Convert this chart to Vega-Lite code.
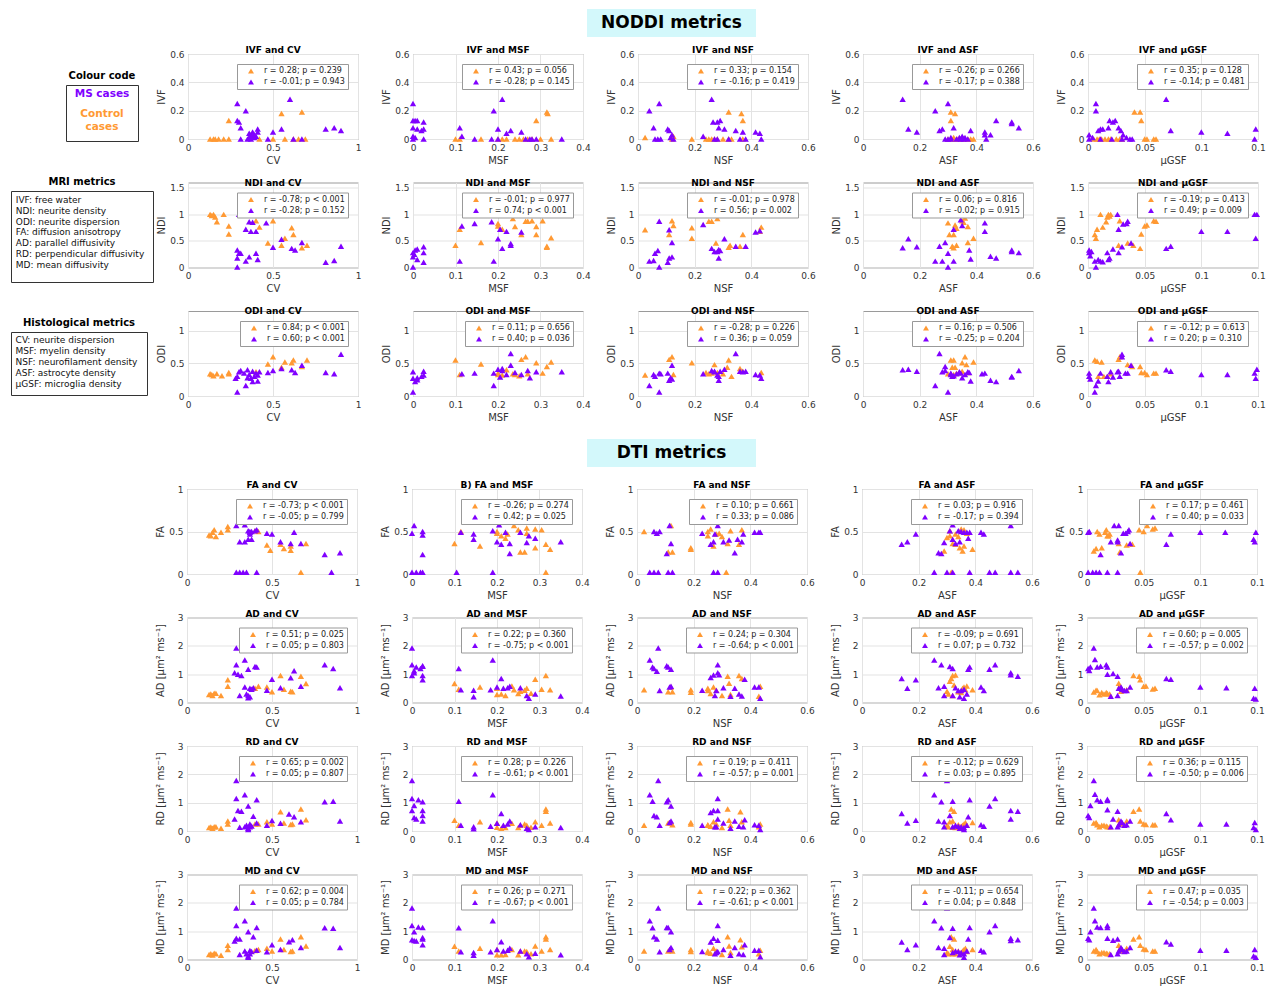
{
"$schema":"https://vega.github.io/schema/vega-lite/v6.json",
"padding":{"left":10,"top":9,"right":0,"bottom":0},
"spacing":8,
"resolve":{"scale":{"color":"independent"}},
"datasets":{
"IVF_CV":[{"g":"C","x":0.13,"y":0},{"g":"C","x":0.15,"y":0},{"g":"C","x":0.16,"y":0},{"g":"C","x":0.18,"y":0},{"g":"C","x":0.21,"y":0},{"g":"C","x":0.24,"y":0},{"g":"C","x":0.42,"y":0},{"g":"C","x":0.5,"y":0},{"g":"C","x":0.57,"y":0},{"g":"C","x":0.62,"y":0},{"g":"C","x":0.65,"y":0},{"g":"C","x":0.69,"y":0},{"g":"C","x":0.24,"y":0.13},{"g":"C","x":0.55,"y":0.18},{"g":"C","x":0.67,"y":0.19},{"g":"M","x":0.29,"y":0.25},{"g":"M","x":0.29,"y":0.13},{"g":"M","x":0.3,"y":0.12},{"g":"M","x":0.31,"y":0.08},{"g":"M","x":0.34,"y":0.2},{"g":"M","x":0.31,"y":0},{"g":"M","x":0.35,"y":0},{"g":"M","x":0.36,"y":0.01},{"g":"M","x":0.37,"y":0.03},{"g":"M","x":0.38,"y":0.05},{"g":"M","x":0.38,"y":0.02},{"g":"M","x":0.39,"y":0.01},{"g":"M","x":0.4,"y":0.02},{"g":"M","x":0.41,"y":0.05},{"g":"M","x":0.41,"y":0.07},{"g":"M","x":0.37,"y":0},{"g":"M","x":0.47,"y":0},{"g":"M","x":0.5,"y":0.05},{"g":"M","x":0.55,"y":0.07},{"g":"M","x":0.6,"y":0.28},{"g":"M","x":0.62,"y":0},{"g":"M","x":0.67,"y":0},{"g":"M","x":0.81,"y":0.07},{"g":"M","x":0.86,"y":0.08},{"g":"M","x":0.9,"y":0.06},{"g":"M","x":0.36,"y":0.04},{"g":"M","x":0.39,"y":0.03}],
"IVF_MSF":[{"g":"C","x":0.1,"y":0},{"g":"C","x":0.11,"y":0},{"g":"C","x":0.16,"y":0},{"g":"C","x":0.2,"y":0},{"g":"C","x":0.21,"y":0},{"g":"C","x":0.22,"y":0},{"g":"C","x":0.24,"y":0},{"g":"C","x":0.25,"y":0},{"g":"C","x":0.26,"y":0},{"g":"C","x":0.27,"y":0},{"g":"C","x":0.28,"y":0},{"g":"C","x":0.3,"y":0},{"g":"C","x":0.325,"y":0},{"g":"C","x":0.29,"y":0.13},{"g":"C","x":0.315,"y":0.19},{"g":"C","x":0.317,"y":0.18},{"g":"M","x":0,"y":0.25},{"g":"M","x":0,"y":0.13},{"g":"M","x":0.005,"y":0.13},{"g":"M","x":0.01,"y":0.13},{"g":"M","x":0,"y":0.08},{"g":"M","x":0.01,"y":0.07},{"g":"M","x":0.02,"y":0.06},{"g":"M","x":0.025,"y":0.07},{"g":"M","x":0.025,"y":0.12},{"g":"M","x":0,"y":0.02},{"g":"M","x":0,"y":0},{"g":"M","x":0.025,"y":0},{"g":"M","x":0.005,"y":0.01},{"g":"M","x":0.11,"y":0.08},{"g":"M","x":0.115,"y":0.02},{"g":"M","x":0.145,"y":0},{"g":"M","x":0.185,"y":0},{"g":"M","x":0.19,"y":0.2},{"g":"M","x":0.2,"y":0.07},{"g":"M","x":0.21,"y":0.28},{"g":"M","x":0.22,"y":0.04},{"g":"M","x":0.23,"y":0.06},{"g":"M","x":0.255,"y":0.05},{"g":"M","x":0.265,"y":0},{"g":"M","x":0.275,"y":0},{"g":"M","x":0.28,"y":0},{"g":"M","x":0.29,"y":0},{"g":"M","x":0.35,"y":0},{"g":"M","x":0.2,"y":0}],
"IVF_NSF":[{"g":"C","x":0.025,"y":0.01},{"g":"C","x":0.12,"y":0},{"g":"C","x":0.125,"y":0.02},{"g":"C","x":0.19,"y":0},{"g":"C","x":0.24,"y":0},{"g":"C","x":0.25,"y":0},{"g":"C","x":0.26,"y":0},{"g":"C","x":0.27,"y":0},{"g":"C","x":0.28,"y":0},{"g":"C","x":0.3,"y":0},{"g":"C","x":0.32,"y":0},{"g":"C","x":0.33,"y":0},{"g":"C","x":0.37,"y":0},{"g":"C","x":0.32,"y":0.19},{"g":"C","x":0.365,"y":0.18},{"g":"C","x":0.37,"y":0.13},{"g":"M","x":0.04,"y":0.2},{"g":"M","x":0.055,"y":0.08},{"g":"M","x":0.075,"y":0.25},{"g":"M","x":0.105,"y":0.07},{"g":"M","x":0.11,"y":0.06},{"g":"M","x":0.06,"y":0},{"g":"M","x":0.07,"y":0},{"g":"M","x":0.08,"y":0},{"g":"M","x":0.115,"y":0.01},{"g":"M","x":0.12,"y":0.03},{"g":"M","x":0.125,"y":0},{"g":"M","x":0.23,"y":0.02},{"g":"M","x":0.26,"y":0.28},{"g":"M","x":0.265,"y":0.12},{"g":"M","x":0.28,"y":0.12},{"g":"M","x":0.29,"y":0.13},{"g":"M","x":0.285,"y":0.08},{"g":"M","x":0.27,"y":0},{"g":"M","x":0.305,"y":0.07},{"g":"M","x":0.345,"y":0.06},{"g":"M","x":0.37,"y":0.05},{"g":"M","x":0.36,"y":0},{"g":"M","x":0.32,"y":0},{"g":"M","x":0.415,"y":0.05},{"g":"M","x":0.43,"y":0.04},{"g":"M","x":0.435,"y":0},{"g":"M","x":0.38,"y":0},{"g":"M","x":0.28,"y":0}],
"IVF_ASF":[{"g":"C","x":0.31,"y":0.19},{"g":"C","x":0.325,"y":0.18},{"g":"C","x":0.31,"y":0.13},{"g":"C","x":0.3,"y":0},{"g":"C","x":0.31,"y":0},{"g":"C","x":0.32,"y":0},{"g":"C","x":0.33,"y":0},{"g":"C","x":0.34,"y":0},{"g":"C","x":0.35,"y":0},{"g":"C","x":0.36,"y":0},{"g":"C","x":0.37,"y":0},{"g":"C","x":0.38,"y":0},{"g":"C","x":0.39,"y":0},{"g":"C","x":0.32,"y":0.01},{"g":"C","x":0.335,"y":0},{"g":"M","x":0.14,"y":0.28},{"g":"M","x":0.16,"y":0.07},{"g":"M","x":0.19,"y":0.05},{"g":"M","x":0.255,"y":0.2},{"g":"M","x":0.27,"y":0.06},{"g":"M","x":0.28,"y":0.07},{"g":"M","x":0.3,"y":0.25},{"g":"M","x":0.3,"y":0},{"g":"M","x":0.32,"y":0.08},{"g":"M","x":0.31,"y":0},{"g":"M","x":0.33,"y":0},{"g":"M","x":0.34,"y":0.01},{"g":"M","x":0.35,"y":0.02},{"g":"M","x":0.355,"y":0},{"g":"M","x":0.36,"y":0.01},{"g":"M","x":0.37,"y":0},{"g":"M","x":0.38,"y":0.06},{"g":"M","x":0.43,"y":0.05},{"g":"M","x":0.43,"y":0.03},{"g":"M","x":0.435,"y":0},{"g":"M","x":0.45,"y":0.03},{"g":"M","x":0.47,"y":0.13},{"g":"M","x":0.525,"y":0.12},{"g":"M","x":0.525,"y":0.11},{"g":"M","x":0.55,"y":0.08},{"g":"M","x":0.345,"y":0},{"g":"M","x":0.31,"y":0.01},{"g":"M","x":0.29,"y":0}],
"IVF_GSF":[{"g":"C","x":0.005,"y":0},{"g":"C","x":0.008,"y":0},{"g":"C","x":0.01,"y":0},{"g":"C","x":0.012,"y":0},{"g":"C","x":0.015,"y":0},{"g":"C","x":0.018,"y":0},{"g":"C","x":0.02,"y":0},{"g":"C","x":0.025,"y":0},{"g":"C","x":0.028,"y":0},{"g":"C","x":0.03,"y":0},{"g":"C","x":0.05,"y":0},{"g":"C","x":0.052,"y":0},{"g":"C","x":0.058,"y":0},{"g":"C","x":0.06,"y":0},{"g":"C","x":0.041,"y":0.19},{"g":"C","x":0.046,"y":0.19},{"g":"C","x":0.047,"y":0.13},{"g":"M","x":0.001,"y":0.03},{"g":"M","x":0.001,"y":0},{"g":"M","x":0.007,"y":0.25},{"g":"M","x":0.007,"y":0.2},{"g":"M","x":0.009,"y":0.06},{"g":"M","x":0.011,"y":0.07},{"g":"M","x":0.013,"y":0.07},{"g":"M","x":0.018,"y":0.08},{"g":"M","x":0.019,"y":0.13},{"g":"M","x":0.022,"y":0.12},{"g":"M","x":0.024,"y":0.13},{"g":"M","x":0.027,"y":0.08},{"g":"M","x":0.029,"y":0.06},{"g":"M","x":0.031,"y":0.03},{"g":"M","x":0.03,"y":0},{"g":"M","x":0.021,"y":0},{"g":"M","x":0.034,"y":0.01},{"g":"M","x":0.037,"y":0},{"g":"M","x":0.039,"y":0},{"g":"M","x":0.069,"y":0.28},{"g":"M","x":0.073,"y":0.06},{"g":"M","x":0.1,"y":0.05},{"g":"M","x":0.123,"y":0.04},{"g":"M","x":0.147,"y":0},{"g":"M","x":0.148,"y":0.07},{"g":"M","x":0.011,"y":0},{"g":"M","x":0.004,"y":0.01}],
"NDI_CV":[{"g":"C","x":0.13,"y":1.0},{"g":"C","x":0.14,"y":0.98},{"g":"C","x":0.15,"y":1.0},{"g":"C","x":0.16,"y":0.95},{"g":"C","x":0.17,"y":0.86},{"g":"C","x":0.21,"y":1.0},{"g":"C","x":0.24,"y":0.78},{"g":"C","x":0.24,"y":0.63},{"g":"C","x":0.4,"y":0.88},{"g":"C","x":0.42,"y":0.76},{"g":"C","x":0.47,"y":0.46},{"g":"C","x":0.5,"y":0.88},{"g":"C","x":0.55,"y":0.42},{"g":"C","x":0.57,"y":0.55},{"g":"C","x":0.61,"y":0.75},{"g":"C","x":0.62,"y":0.62},{"g":"C","x":0.67,"y":0.37},{"g":"C","x":0.7,"y":0.42},{"g":"M","x":0.3,"y":1.0},{"g":"M","x":0.34,"y":1.0},{"g":"M","x":0.35,"y":1.0},{"g":"M","x":0.36,"y":1.0},{"g":"M","x":0.36,"y":0.86},{"g":"M","x":0.38,"y":0.85},{"g":"M","x":0.34,"y":0.72},{"g":"M","x":0.37,"y":0.68},{"g":"M","x":0.4,"y":0.68},{"g":"M","x":0.46,"y":0.84},{"g":"M","x":0.29,"y":0.33},{"g":"M","x":0.3,"y":0.27},{"g":"M","x":0.31,"y":0.27},{"g":"M","x":0.29,"y":0.18},{"g":"M","x":0.29,"y":0.01},{"g":"M","x":0.34,"y":0.12},{"g":"M","x":0.36,"y":0.2},{"g":"M","x":0.4,"y":0.27},{"g":"M","x":0.41,"y":0.15},{"g":"M","x":0.5,"y":0.38},{"g":"M","x":0.55,"y":0.53},{"g":"M","x":0.61,"y":0.36},{"g":"M","x":0.63,"y":0.33},{"g":"M","x":0.67,"y":0.47},{"g":"M","x":0.81,"y":0.1},{"g":"M","x":0.86,"y":0.13},{"g":"M","x":0.9,"y":0.4}],
"NDI_MSF":[{"g":"C","x":0.1,"y":0.42},{"g":"C","x":0.11,"y":0.72},{"g":"C","x":0.16,"y":0.47},{"g":"C","x":0.2,"y":0.78},{"g":"C","x":0.2,"y":1.0},{"g":"C","x":0.2,"y":0.83},{"g":"C","x":0.21,"y":0.72},{"g":"C","x":0.22,"y":1.0},{"g":"C","x":0.235,"y":0.92},{"g":"C","x":0.25,"y":1.0},{"g":"C","x":0.255,"y":0.62},{"g":"C","x":0.265,"y":0.87},{"g":"C","x":0.27,"y":0.87},{"g":"C","x":0.28,"y":0.88},{"g":"C","x":0.29,"y":0.62},{"g":"C","x":0.29,"y":0.77},{"g":"C","x":0.305,"y":0.88},{"g":"C","x":0.315,"y":0.38},{"g":"C","x":0.315,"y":0.4},{"g":"C","x":0.325,"y":0.56},{"g":"C","x":0.24,"y":0.77},{"g":"M","x":0,"y":0.01},{"g":"M","x":0,"y":0.2},{"g":"M","x":0,"y":0.28},{"g":"M","x":0.005,"y":0.33},{"g":"M","x":0.01,"y":0.35},{"g":"M","x":0.01,"y":0.15},{"g":"M","x":0.025,"y":0.39},{"g":"M","x":0.025,"y":0.28},{"g":"M","x":0.025,"y":0.1},{"g":"M","x":0.11,"y":0.12},{"g":"M","x":0.115,"y":0.78},{"g":"M","x":0.145,"y":1.0},{"g":"M","x":0.145,"y":0.83},{"g":"M","x":0.185,"y":0.86},{"g":"M","x":0.19,"y":0.12},{"g":"M","x":0.2,"y":0.54},{"g":"M","x":0.205,"y":0.72},{"g":"M","x":0.21,"y":0.36},{"g":"M","x":0.22,"y":0.68},{"g":"M","x":0.23,"y":0.45},{"g":"M","x":0.23,"y":0.42},{"g":"M","x":0.255,"y":0.67},{"g":"M","x":0.27,"y":1.0},{"g":"M","x":0.28,"y":1.0},{"g":"M","x":0.29,"y":1.0},{"g":"M","x":0.35,"y":1.0},{"g":"M","x":0.003,"y":0.25}],
"NDI_NSF":[{"g":"C","x":0.025,"y":0.71},{"g":"C","x":0.11,"y":0.62},{"g":"C","x":0.12,"y":0.88},{"g":"C","x":0.125,"y":0.79},{"g":"C","x":0.19,"y":0.75},{"g":"C","x":0.19,"y":0.55},{"g":"C","x":0.25,"y":0.87},{"g":"C","x":0.26,"y":0.87},{"g":"C","x":0.27,"y":1.0},{"g":"C","x":0.28,"y":0.92},{"g":"C","x":0.3,"y":1.0},{"g":"C","x":0.32,"y":0.38},{"g":"C","x":0.325,"y":0.42},{"g":"C","x":0.275,"y":0.46},{"g":"C","x":0.37,"y":0.62},{"g":"C","x":0.36,"y":0.4},{"g":"C","x":0.435,"y":0.76},{"g":"C","x":0.43,"y":0.68},{"g":"M","x":0.04,"y":0.12},{"g":"M","x":0.055,"y":0.13},{"g":"M","x":0.06,"y":0.27},{"g":"M","x":0.07,"y":0.32},{"g":"M","x":0.075,"y":0.87},{"g":"M","x":0.075,"y":0.01},{"g":"M","x":0.105,"y":0.1},{"g":"M","x":0.11,"y":0.18},{"g":"M","x":0.11,"y":0.71},{"g":"M","x":0.12,"y":0.47},{"g":"M","x":0.12,"y":0.2},{"g":"M","x":0.23,"y":0.81},{"g":"M","x":0.26,"y":0.36},{"g":"M","x":0.27,"y":0.3},{"g":"M","x":0.28,"y":0.3},{"g":"M","x":0.285,"y":0.18},{"g":"M","x":0.285,"y":0.34},{"g":"M","x":0.275,"y":1.0},{"g":"M","x":0.305,"y":0.54},{"g":"M","x":0.325,"y":1.0},{"g":"M","x":0.36,"y":1.0},{"g":"M","x":0.37,"y":1.0},{"g":"M","x":0.345,"y":0.4},{"g":"M","x":0.38,"y":0.4},{"g":"M","x":0.415,"y":0.67},{"g":"M","x":0.43,"y":0.69},{"g":"M","x":0.435,"y":1.0},{"g":"M","x":0.29,"y":0.32}],
"NDI_ASF":[{"g":"C","x":0.3,"y":0.84},{"g":"C","x":0.305,"y":0.62},{"g":"C","x":0.31,"y":1.0},{"g":"C","x":0.315,"y":0.4},{"g":"C","x":0.32,"y":0.62},{"g":"C","x":0.32,"y":0.37},{"g":"C","x":0.325,"y":0.8},{"g":"C","x":0.33,"y":0.42},{"g":"C","x":0.33,"y":0.74},{"g":"C","x":0.35,"y":0.88},{"g":"C","x":0.36,"y":0.93},{"g":"C","x":0.355,"y":0.85},{"g":"C","x":0.37,"y":0.77},{"g":"C","x":0.37,"y":0.47},{"g":"C","x":0.39,"y":0.55},{"g":"C","x":0.32,"y":1.0},{"g":"M","x":0.14,"y":0.37},{"g":"M","x":0.16,"y":0.54},{"g":"M","x":0.19,"y":0.39},{"g":"M","x":0.255,"y":0.12},{"g":"M","x":0.27,"y":0.4},{"g":"M","x":0.28,"y":0.12},{"g":"M","x":0.29,"y":0.47},{"g":"M","x":0.3,"y":0.01},{"g":"M","x":0.3,"y":0.27},{"g":"M","x":0.32,"y":0.12},{"g":"M","x":0.3,"y":1.0},{"g":"M","x":0.32,"y":0.72},{"g":"M","x":0.33,"y":1.0},{"g":"M","x":0.34,"y":1.0},{"g":"M","x":0.345,"y":0.9},{"g":"M","x":0.35,"y":0.79},{"g":"M","x":0.36,"y":1.0},{"g":"M","x":0.37,"y":1.0},{"g":"M","x":0.375,"y":1.0},{"g":"M","x":0.375,"y":0.33},{"g":"M","x":0.38,"y":0.16},{"g":"M","x":0.43,"y":0.84},{"g":"M","x":0.43,"y":0.68},{"g":"M","x":0.45,"y":0.21},{"g":"M","x":0.47,"y":0.18},{"g":"M","x":0.525,"y":0.33},{"g":"M","x":0.525,"y":0.3},{"g":"M","x":0.55,"y":0.28}],
"NDI_GSF":[{"g":"C","x":0.006,"y":0.62},{"g":"C","x":0.007,"y":0.55},{"g":"C","x":0.008,"y":0.72},{"g":"C","x":0.011,"y":1.0},{"g":"C","x":0.013,"y":0.76},{"g":"C","x":0.016,"y":0.86},{"g":"C","x":0.017,"y":0.95},{"g":"C","x":0.018,"y":1.0},{"g":"C","x":0.019,"y":0.97},{"g":"C","x":0.02,"y":1.0},{"g":"C","x":0.028,"y":0.88},{"g":"C","x":0.027,"y":0.42},{"g":"C","x":0.035,"y":0.46},{"g":"C","x":0.04,"y":0.42},{"g":"C","x":0.046,"y":0.36},{"g":"C","x":0.047,"y":0.63},{"g":"C","x":0.05,"y":0.78},{"g":"C","x":0.052,"y":0.8},{"g":"C","x":0.058,"y":0.88},{"g":"C","x":0.06,"y":0.87},{"g":"M","x":0.001,"y":0.33},{"g":"M","x":0.001,"y":0.28},{"g":"M","x":0.002,"y":0.22},{"g":"M","x":0.003,"y":0.3},{"g":"M","x":0.006,"y":0.12},{"g":"M","x":0.007,"y":0.01},{"g":"M","x":0.009,"y":0.15},{"g":"M","x":0.011,"y":0.12},{"g":"M","x":0.013,"y":0.11},{"g":"M","x":0.017,"y":0.28},{"g":"M","x":0.018,"y":0.15},{"g":"M","x":0.019,"y":0.18},{"g":"M","x":0.022,"y":0.35},{"g":"M","x":0.026,"y":1.0},{"g":"M","x":0.027,"y":0.72},{"g":"M","x":0.027,"y":0.28},{"g":"M","x":0.03,"y":0.39},{"g":"M","x":0.031,"y":0.82},{"g":"M","x":0.034,"y":0.83},{"g":"M","x":0.035,"y":0.87},{"g":"M","x":0.038,"y":0.46},{"g":"M","x":0.069,"y":0.36},{"g":"M","x":0.073,"y":0.4},{"g":"M","x":0.1,"y":0.68},{"g":"M","x":0.123,"y":0.68},{"g":"M","x":0.147,"y":1.0},{"g":"M","x":0.148,"y":0.55},{"g":"M","x":0.149,"y":1.0}],
"ODI_CV":[{"g":"C","x":0.13,"y":0.34},{"g":"C","x":0.14,"y":0.33},{"g":"C","x":0.15,"y":0.31},{"g":"C","x":0.17,"y":0.34},{"g":"C","x":0.2,"y":0.31},{"g":"C","x":0.24,"y":0.34},{"g":"C","x":0.24,"y":0.36},{"g":"C","x":0.4,"y":0.37},{"g":"C","x":0.47,"y":0.49},{"g":"C","x":0.5,"y":0.6},{"g":"C","x":0.55,"y":0.44},{"g":"C","x":0.57,"y":0.52},{"g":"C","x":0.61,"y":0.51},{"g":"C","x":0.62,"y":0.55},{"g":"C","x":0.67,"y":0.45},{"g":"C","x":0.7,"y":0.55},{"g":"M","x":0.29,"y":0.06},{"g":"M","x":0.28,"y":0.27},{"g":"M","x":0.29,"y":0.3},{"g":"M","x":0.3,"y":0.37},{"g":"M","x":0.31,"y":0.39},{"g":"M","x":0.33,"y":0.35},{"g":"M","x":0.34,"y":0.16},{"g":"M","x":0.35,"y":0.4},{"g":"M","x":0.35,"y":0.28},{"g":"M","x":0.36,"y":0.33},{"g":"M","x":0.37,"y":0.27},{"g":"M","x":0.38,"y":0.38},{"g":"M","x":0.38,"y":0.22},{"g":"M","x":0.39,"y":0.3},{"g":"M","x":0.4,"y":0.35},{"g":"M","x":0.41,"y":0.32},{"g":"M","x":0.41,"y":0.23},{"g":"M","x":0.42,"y":0.37},{"g":"M","x":0.47,"y":0.36},{"g":"M","x":0.5,"y":0.39},{"g":"M","x":0.55,"y":0.42},{"g":"M","x":0.61,"y":0.4},{"g":"M","x":0.63,"y":0.36},{"g":"M","x":0.67,"y":0.47},{"g":"M","x":0.81,"y":0.36},{"g":"M","x":0.86,"y":0.34},{"g":"M","x":0.9,"y":0.64}],
"ODI_MSF":[{"g":"C","x":0.1,"y":0.55},{"g":"C","x":0.11,"y":0.33},{"g":"C","x":0.16,"y":0.49},{"g":"C","x":0.2,"y":0.35},{"g":"C","x":0.2,"y":0.33},{"g":"C","x":0.21,"y":0.32},{"g":"C","x":0.22,"y":0.4},{"g":"C","x":0.235,"y":0.34},{"g":"C","x":0.25,"y":0.31},{"g":"C","x":0.255,"y":0.56},{"g":"C","x":0.265,"y":0.6},{"g":"C","x":0.27,"y":0.34},{"g":"C","x":0.29,"y":0.51},{"g":"C","x":0.305,"y":0.35},{"g":"C","x":0.315,"y":0.45},{"g":"C","x":0.325,"y":0.52},{"g":"C","x":0.24,"y":0.33},{"g":"M","x":0,"y":0.06},{"g":"M","x":0,"y":0.37},{"g":"M","x":0,"y":0.27},{"g":"M","x":0.005,"y":0.22},{"g":"M","x":0.01,"y":0.25},{"g":"M","x":0.01,"y":0.28},{"g":"M","x":0.025,"y":0.32},{"g":"M","x":0.025,"y":0.38},{"g":"M","x":0.115,"y":0.34},{"g":"M","x":0.145,"y":0.35},{"g":"M","x":0.19,"y":0.35},{"g":"M","x":0.19,"y":0.16},{"g":"M","x":0.2,"y":0.41},{"g":"M","x":0.205,"y":0.29},{"g":"M","x":0.21,"y":0.39},{"g":"M","x":0.22,"y":0.33},{"g":"M","x":0.23,"y":0.65},{"g":"M","x":0.23,"y":0.47},{"g":"M","x":0.24,"y":0.36},{"g":"M","x":0.255,"y":0.33},{"g":"M","x":0.27,"y":0.39},{"g":"M","x":0.275,"y":0.28},{"g":"M","x":0.29,"y":0.37},{"g":"M","x":0.35,"y":0.37},{"g":"M","x":0.02,"y":0.3},{"g":"M","x":0.21,"y":0.42}],
"ODI_NSF":[{"g":"C","x":0.025,"y":0.32},{"g":"C","x":0.11,"y":0.56},{"g":"C","x":0.12,"y":0.6},{"g":"C","x":0.125,"y":0.33},{"g":"C","x":0.19,"y":0.51},{"g":"C","x":0.25,"y":0.34},{"g":"C","x":0.26,"y":0.35},{"g":"C","x":0.27,"y":0.48},{"g":"C","x":0.28,"y":0.36},{"g":"C","x":0.3,"y":0.34},{"g":"C","x":0.315,"y":0.44},{"g":"C","x":0.32,"y":0.55},{"g":"C","x":0.33,"y":0.3},{"g":"C","x":0.36,"y":0.42},{"g":"C","x":0.37,"y":0.38},{"g":"C","x":0.435,"y":0.36},{"g":"C","x":0.24,"y":0.36},{"g":"M","x":0.04,"y":0.16},{"g":"M","x":0.055,"y":0.33},{"g":"M","x":0.06,"y":0.3},{"g":"M","x":0.075,"y":0.06},{"g":"M","x":0.075,"y":0.35},{"g":"M","x":0.08,"y":0.34},{"g":"M","x":0.105,"y":0.35},{"g":"M","x":0.11,"y":0.24},{"g":"M","x":0.115,"y":0.28},{"g":"M","x":0.12,"y":0.47},{"g":"M","x":0.12,"y":0.26},{"g":"M","x":0.23,"y":0.34},{"g":"M","x":0.26,"y":0.39},{"g":"M","x":0.27,"y":0.37},{"g":"M","x":0.28,"y":0.32},{"g":"M","x":0.285,"y":0.24},{"g":"M","x":0.29,"y":0.38},{"g":"M","x":0.305,"y":0.41},{"g":"M","x":0.345,"y":0.65},{"g":"M","x":0.36,"y":0.38},{"g":"M","x":0.37,"y":0.37},{"g":"M","x":0.38,"y":0.38},{"g":"M","x":0.415,"y":0.33},{"g":"M","x":0.43,"y":0.32},{"g":"M","x":0.435,"y":0.27},{"g":"M","x":0.27,"y":0.38},{"g":"M","x":0.285,"y":0.3}],
"ODI_ASF":[{"g":"C","x":0.3,"y":0.34},{"g":"C","x":0.31,"y":0.55},{"g":"C","x":0.32,"y":0.55},{"g":"C","x":0.315,"y":0.44},{"g":"C","x":0.325,"y":0.44},{"g":"C","x":0.33,"y":0.35},{"g":"C","x":0.34,"y":0.36},{"g":"C","x":0.35,"y":0.51},{"g":"C","x":0.36,"y":0.6},{"g":"C","x":0.365,"y":0.48},{"g":"C","x":0.37,"y":0.36},{"g":"C","x":0.39,"y":0.52},{"g":"C","x":0.32,"y":0.33},{"g":"C","x":0.35,"y":0.38},{"g":"M","x":0.14,"y":0.4},{"g":"M","x":0.16,"y":0.41},{"g":"M","x":0.19,"y":0.38},{"g":"M","x":0.255,"y":0.16},{"g":"M","x":0.27,"y":0.65},{"g":"M","x":0.28,"y":0.37},{"g":"M","x":0.29,"y":0.45},{"g":"M","x":0.29,"y":0.39},{"g":"M","x":0.3,"y":0.06},{"g":"M","x":0.31,"y":0.33},{"g":"M","x":0.315,"y":0.3},{"g":"M","x":0.32,"y":0.31},{"g":"M","x":0.33,"y":0.34},{"g":"M","x":0.34,"y":0.37},{"g":"M","x":0.345,"y":0.35},{"g":"M","x":0.35,"y":0.28},{"g":"M","x":0.36,"y":0.33},{"g":"M","x":0.37,"y":0.37},{"g":"M","x":0.375,"y":0.36},{"g":"M","x":0.38,"y":0.23},{"g":"M","x":0.42,"y":0.34},{"g":"M","x":0.43,"y":0.35},{"g":"M","x":0.45,"y":0.24},{"g":"M","x":0.47,"y":0.22},{"g":"M","x":0.525,"y":0.3},{"g":"M","x":0.525,"y":0.29},{"g":"M","x":0.55,"y":0.39},{"g":"M","x":0.31,"y":0.35}],
"ODI_GSF":[{"g":"C","x":0.006,"y":0.55},{"g":"C","x":0.008,"y":0.53},{"g":"C","x":0.012,"y":0.52},{"g":"C","x":0.009,"y":0.3},{"g":"C","x":0.014,"y":0.3},{"g":"C","x":0.017,"y":0.3},{"g":"C","x":0.02,"y":0.34},{"g":"C","x":0.027,"y":0.56},{"g":"C","x":0.028,"y":0.6},{"g":"C","x":0.035,"y":0.48},{"g":"C","x":0.039,"y":0.45},{"g":"C","x":0.046,"y":0.45},{"g":"C","x":0.047,"y":0.36},{"g":"C","x":0.05,"y":0.36},{"g":"C","x":0.052,"y":0.33},{"g":"C","x":0.058,"y":0.35},{"g":"C","x":0.06,"y":0.35},{"g":"M","x":0.001,"y":0.35},{"g":"M","x":0.001,"y":0.3},{"g":"M","x":0.002,"y":0.26},{"g":"M","x":0.006,"y":0.06},{"g":"M","x":0.007,"y":0.16},{"g":"M","x":0.009,"y":0.23},{"g":"M","x":0.011,"y":0.35},{"g":"M","x":0.017,"y":0.3},{"g":"M","x":0.018,"y":0.22},{"g":"M","x":0.02,"y":0.37},{"g":"M","x":0.022,"y":0.29},{"g":"M","x":0.026,"y":0.37},{"g":"M","x":0.027,"y":0.38},{"g":"M","x":0.028,"y":0.3},{"g":"M","x":0.03,"y":0.64},{"g":"M","x":0.03,"y":0.6},{"g":"M","x":0.033,"y":0.35},{"g":"M","x":0.035,"y":0.35},{"g":"M","x":0.038,"y":0.47},{"g":"M","x":0.069,"y":0.4},{"g":"M","x":0.073,"y":0.38},{"g":"M","x":0.1,"y":0.33},{"g":"M","x":0.123,"y":0.33},{"g":"M","x":0.147,"y":0.35},{"g":"M","x":0.148,"y":0.27},{"g":"M","x":0.149,"y":0.41}],
"FA_CV":[{"g":"C","x":0.13,"y":0.46},{"g":"C","x":0.14,"y":0.45},{"g":"C","x":0.15,"y":0.49},{"g":"C","x":0.16,"y":0.52},{"g":"C","x":0.17,"y":0.44},{"g":"C","x":0.2,"y":0.49},{"g":"C","x":0.24,"y":0.56},{"g":"C","x":0.24,"y":0.52},{"g":"C","x":0.4,"y":0.51},{"g":"C","x":0.42,"y":0.5},{"g":"C","x":0.47,"y":0.34},{"g":"C","x":0.49,"y":0.28},{"g":"C","x":0.55,"y":0.35},{"g":"C","x":0.57,"y":0.3},{"g":"C","x":0.61,"y":0.33},{"g":"C","x":0.61,"y":0.28},{"g":"C","x":0.67,"y":0.02},{"g":"C","x":0.7,"y":0.36},{"g":"M","x":0.29,"y":0.57},{"g":"M","x":0.34,"y":0.58},{"g":"M","x":0.36,"y":0.51},{"g":"M","x":0.37,"y":0.5},{"g":"M","x":0.37,"y":0.49},{"g":"M","x":0.38,"y":0.5},{"g":"M","x":0.4,"y":0.51},{"g":"M","x":0.41,"y":0.52},{"g":"M","x":0.36,"y":0.41},{"g":"M","x":0.38,"y":0.41},{"g":"M","x":0.34,"y":0.38},{"g":"M","x":0.31,"y":0.38},{"g":"M","x":0.47,"y":0.48},{"g":"M","x":0.5,"y":0.47},{"g":"M","x":0.55,"y":0.38},{"g":"M","x":0.61,"y":0.36},{"g":"M","x":0.63,"y":0.49},{"g":"M","x":0.67,"y":0.36},{"g":"M","x":0.81,"y":0.23},{"g":"M","x":0.9,"y":0.25},{"g":"M","x":0.29,"y":0.02},{"g":"M","x":0.31,"y":0.02},{"g":"M","x":0.33,"y":0.02},{"g":"M","x":0.35,"y":0.02},{"g":"M","x":0.41,"y":0.02},{"g":"M","x":0.85,"y":0.02},{"g":"M","x":0.37,"y":0.47}],
"FA_MSF":[{"g":"C","x":0.1,"y":0.36},{"g":"C","x":0.115,"y":0.5},{"g":"C","x":0.16,"y":0.33},{"g":"C","x":0.2,"y":0.5},{"g":"C","x":0.2,"y":0.48},{"g":"C","x":0.21,"y":0.45},{"g":"C","x":0.22,"y":0.42},{"g":"C","x":0.225,"y":0.47},{"g":"C","x":0.24,"y":0.57},{"g":"C","x":0.25,"y":0.52},{"g":"C","x":0.255,"y":0.26},{"g":"C","x":0.265,"y":0.26},{"g":"C","x":0.27,"y":0.54},{"g":"C","x":0.27,"y":0.48},{"g":"C","x":0.29,"y":0.53},{"g":"C","x":0.29,"y":0.31},{"g":"C","x":0.305,"y":0.52},{"g":"C","x":0.315,"y":0.35},{"g":"C","x":0.325,"y":0.29},{"g":"C","x":0.315,"y":0.02},{"g":"M","x":0,"y":0.02},{"g":"M","x":0.01,"y":0.02},{"g":"M","x":0.02,"y":0.02},{"g":"M","x":0.025,"y":0.02},{"g":"M","x":0,"y":0.48},{"g":"M","x":0.005,"y":0.57},{"g":"M","x":0.025,"y":0.5},{"g":"M","x":0.025,"y":0.46},{"g":"M","x":0.025,"y":0.23},{"g":"M","x":0.105,"y":0.02},{"g":"M","x":0.115,"y":0.49},{"g":"M","x":0.145,"y":0.47},{"g":"M","x":0.145,"y":0.41},{"g":"M","x":0.19,"y":0.02},{"g":"M","x":0.19,"y":0.51},{"g":"M","x":0.2,"y":0.38},{"g":"M","x":0.205,"y":0.58},{"g":"M","x":0.21,"y":0.35},{"g":"M","x":0.22,"y":0.49},{"g":"M","x":0.23,"y":0.36},{"g":"M","x":0.23,"y":0.24},{"g":"M","x":0.255,"y":0.49},{"g":"M","x":0.27,"y":0.37},{"g":"M","x":0.275,"y":0.45},{"g":"M","x":0.29,"y":0.42},{"g":"M","x":0.35,"y":0.38}],
"FA_NSF":[{"g":"C","x":0.025,"y":0.5},{"g":"C","x":0.12,"y":0.57},{"g":"C","x":0.11,"y":0.26},{"g":"C","x":0.125,"y":0.26},{"g":"C","x":0.19,"y":0.31},{"g":"C","x":0.19,"y":0.29},{"g":"C","x":0.25,"y":0.5},{"g":"C","x":0.26,"y":0.53},{"g":"C","x":0.25,"y":0.45},{"g":"C","x":0.27,"y":0.33},{"g":"C","x":0.28,"y":0.47},{"g":"C","x":0.29,"y":0.48},{"g":"C","x":0.3,"y":0.44},{"g":"C","x":0.32,"y":0.36},{"g":"C","x":0.33,"y":0.51},{"g":"C","x":0.36,"y":0.35},{"g":"C","x":0.37,"y":0.52},{"g":"C","x":0.315,"y":0.02},{"g":"M","x":0.045,"y":0.02},{"g":"M","x":0.06,"y":0.02},{"g":"M","x":0.075,"y":0.02},{"g":"M","x":0.11,"y":0.02},{"g":"M","x":0.125,"y":0.02},{"g":"M","x":0.27,"y":0.02},{"g":"M","x":0.285,"y":0.02},{"g":"M","x":0.06,"y":0.5},{"g":"M","x":0.07,"y":0.48},{"g":"M","x":0.08,"y":0.5},{"g":"M","x":0.115,"y":0.57},{"g":"M","x":0.105,"y":0.24},{"g":"M","x":0.12,"y":0.36},{"g":"M","x":0.23,"y":0.48},{"g":"M","x":0.26,"y":0.35},{"g":"M","x":0.27,"y":0.38},{"g":"M","x":0.275,"y":0.47},{"g":"M","x":0.285,"y":0.57},{"g":"M","x":0.305,"y":0.38},{"g":"M","x":0.325,"y":0.4},{"g":"M","x":0.345,"y":0.25},{"g":"M","x":0.355,"y":0.41},{"g":"M","x":0.37,"y":0.38},{"g":"M","x":0.375,"y":0.47},{"g":"M","x":0.415,"y":0.49},{"g":"M","x":0.43,"y":0.49},{"g":"M","x":0.435,"y":0.49}],
"FA_ASF":[{"g":"C","x":0.29,"y":0.27},{"g":"C","x":0.3,"y":0.43},{"g":"C","x":0.31,"y":0.45},{"g":"C","x":0.31,"y":0.51},{"g":"C","x":0.32,"y":0.36},{"g":"C","x":0.33,"y":0.47},{"g":"C","x":0.33,"y":0.35},{"g":"C","x":0.34,"y":0.44},{"g":"C","x":0.345,"y":0.31},{"g":"C","x":0.35,"y":0.53},{"g":"C","x":0.355,"y":0.27},{"g":"C","x":0.36,"y":0.52},{"g":"C","x":0.36,"y":0.33},{"g":"C","x":0.37,"y":0.48},{"g":"C","x":0.39,"y":0.29},{"g":"C","x":0.315,"y":0.02},{"g":"M","x":0.14,"y":0.35},{"g":"M","x":0.16,"y":0.38},{"g":"M","x":0.19,"y":0.47},{"g":"M","x":0.255,"y":0.02},{"g":"M","x":0.27,"y":0.25},{"g":"M","x":0.28,"y":0.24},{"g":"M","x":0.29,"y":0.37},{"g":"M","x":0.3,"y":0.02},{"g":"M","x":0.31,"y":0.51},{"g":"M","x":0.32,"y":0.58},{"g":"M","x":0.32,"y":0.41},{"g":"M","x":0.32,"y":0.02},{"g":"M","x":0.33,"y":0.36},{"g":"M","x":0.34,"y":0.51},{"g":"M","x":0.345,"y":0.38},{"g":"M","x":0.35,"y":0.5},{"g":"M","x":0.36,"y":0.49},{"g":"M","x":0.37,"y":0.49},{"g":"M","x":0.375,"y":0.42},{"g":"M","x":0.38,"y":0.02},{"g":"M","x":0.38,"y":0.49},{"g":"M","x":0.42,"y":0.49},{"g":"M","x":0.43,"y":0.47},{"g":"M","x":0.45,"y":0.02},{"g":"M","x":0.47,"y":0.02},{"g":"M","x":0.525,"y":0.02},{"g":"M","x":0.525,"y":0.57},{"g":"M","x":0.55,"y":0.02}],
"FA_GSF":[{"g":"C","x":0.006,"y":0.27},{"g":"C","x":0.008,"y":0.3},{"g":"C","x":0.009,"y":0.5},{"g":"C","x":0.011,"y":0.47},{"g":"C","x":0.013,"y":0.31},{"g":"C","x":0.016,"y":0.49},{"g":"C","x":0.017,"y":0.52},{"g":"C","x":0.018,"y":0.45},{"g":"C","x":0.019,"y":0.45},{"g":"C","x":0.02,"y":0.47},{"g":"C","x":0.028,"y":0.36},{"g":"C","x":0.029,"y":0.26},{"g":"C","x":0.035,"y":0.34},{"g":"C","x":0.04,"y":0.35},{"g":"C","x":0.046,"y":0.52},{"g":"C","x":0.047,"y":0.02},{"g":"C","x":0.05,"y":0.5},{"g":"C","x":0.053,"y":0.57},{"g":"C","x":0.058,"y":0.53},{"g":"C","x":0.06,"y":0.54},{"g":"M","x":0.001,"y":0.49},{"g":"M","x":0.002,"y":0.5},{"g":"M","x":0.001,"y":0.02},{"g":"M","x":0.005,"y":0.02},{"g":"M","x":0.008,"y":0.02},{"g":"M","x":0.011,"y":0.02},{"g":"M","x":0.018,"y":0.02},{"g":"M","x":0.027,"y":0.02},{"g":"M","x":0.012,"y":0.23},{"g":"M","x":0.021,"y":0.38},{"g":"M","x":0.024,"y":0.57},{"g":"M","x":0.027,"y":0.4},{"g":"M","x":0.028,"y":0.57},{"g":"M","x":0.03,"y":0.25},{"g":"M","x":0.032,"y":0.48},{"g":"M","x":0.034,"y":0.48},{"g":"M","x":0.036,"y":0.5},{"g":"M","x":0.037,"y":0.52},{"g":"M","x":0.038,"y":0.36},{"g":"M","x":0.07,"y":0.35},{"g":"M","x":0.074,"y":0.47},{"g":"M","x":0.1,"y":0.49},{"g":"M","x":0.122,"y":0.49},{"g":"M","x":0.147,"y":0.41},{"g":"M","x":0.148,"y":0.38},{"g":"M","x":0.149,"y":0.49},{"g":"M","x":0.027,"y":0.38}],
"AD_CV":[{"g":"C","x":0.13,"y":0.28},{"g":"C","x":0.14,"y":0.3},{"g":"C","x":0.15,"y":0.25},{"g":"C","x":0.16,"y":0.33},{"g":"C","x":0.17,"y":0.33},{"g":"C","x":0.2,"y":0.25},{"g":"C","x":0.24,"y":0.8},{"g":"C","x":0.24,"y":0.57},{"g":"C","x":0.4,"y":0.5},{"g":"C","x":0.42,"y":0.57},{"g":"C","x":0.47,"y":0.55},{"g":"C","x":0.5,"y":0.38},{"g":"C","x":0.55,"y":0.95},{"g":"C","x":0.57,"y":0.47},{"g":"C","x":0.61,"y":0.4},{"g":"C","x":0.62,"y":0.38},{"g":"C","x":0.67,"y":0.93},{"g":"C","x":0.7,"y":0.67},{"g":"M","x":0.29,"y":1.92},{"g":"M","x":0.29,"y":1.33},{"g":"M","x":0.28,"y":1.05},{"g":"M","x":0.3,"y":1.0},{"g":"M","x":0.32,"y":0.95},{"g":"M","x":0.34,"y":1.5},{"g":"M","x":0.36,"y":1.17},{"g":"M","x":0.34,"y":0.55},{"g":"M","x":0.37,"y":0.5},{"g":"M","x":0.38,"y":0.47},{"g":"M","x":0.39,"y":0.52},{"g":"M","x":0.36,"y":0.25},{"g":"M","x":0.35,"y":0.3},{"g":"M","x":0.37,"y":0.2},{"g":"M","x":0.31,"y":0.25},{"g":"M","x":0.36,"y":0.17},{"g":"M","x":0.4,"y":1.27},{"g":"M","x":0.41,"y":1.25},{"g":"M","x":0.47,"y":0.43},{"g":"M","x":0.5,"y":0.82},{"g":"M","x":0.55,"y":0.52},{"g":"M","x":0.61,"y":0.87},{"g":"M","x":0.63,"y":1.12},{"g":"M","x":0.67,"y":0.57},{"g":"M","x":0.81,"y":1.33},{"g":"M","x":0.86,"y":1.2},{"g":"M","x":0.9,"y":0.52}],
"AD_MSF":[{"g":"C","x":0.1,"y":0.67},{"g":"C","x":0.11,"y":0.47},{"g":"C","x":0.16,"y":0.55},{"g":"C","x":0.2,"y":0.5},{"g":"C","x":0.2,"y":0.28},{"g":"C","x":0.21,"y":0.3},{"g":"C","x":0.22,"y":0.25},{"g":"C","x":0.235,"y":0.58},{"g":"C","x":0.25,"y":0.32},{"g":"C","x":0.255,"y":0.4},{"g":"C","x":0.265,"y":0.43},{"g":"C","x":0.27,"y":0.5},{"g":"C","x":0.28,"y":0.33},{"g":"C","x":0.29,"y":0.82},{"g":"C","x":0.305,"y":0.47},{"g":"C","x":0.315,"y":0.95},{"g":"C","x":0.325,"y":0.45},{"g":"C","x":0.24,"y":0.45},{"g":"M","x":0,"y":1.92},{"g":"M","x":0,"y":1.33},{"g":"M","x":0,"y":0.95},{"g":"M","x":0.005,"y":1.12},{"g":"M","x":0.005,"y":1.05},{"g":"M","x":0.01,"y":1.25},{"g":"M","x":0.02,"y":1.2},{"g":"M","x":0.025,"y":1.28},{"g":"M","x":0.025,"y":1.3},{"g":"M","x":0.025,"y":0.95},{"g":"M","x":0.025,"y":0.8},{"g":"M","x":0.11,"y":1.2},{"g":"M","x":0.115,"y":0.45},{"g":"M","x":0.145,"y":0.43},{"g":"M","x":0.145,"y":0.2},{"g":"M","x":0.185,"y":0.45},{"g":"M","x":0.19,"y":1.5},{"g":"M","x":0.2,"y":0.55},{"g":"M","x":0.21,"y":0.85},{"g":"M","x":0.215,"y":0.5},{"g":"M","x":0.225,"y":0.52},{"g":"M","x":0.23,"y":0.57},{"g":"M","x":0.255,"y":0.52},{"g":"M","x":0.27,"y":0.25},{"g":"M","x":0.275,"y":0.15},{"g":"M","x":0.29,"y":0.3},{"g":"M","x":0.35,"y":0.23}],
"AD_NSF":[{"g":"C","x":0.025,"y":0.45},{"g":"C","x":0.11,"y":0.38},{"g":"C","x":0.12,"y":0.55},{"g":"C","x":0.125,"y":0.38},{"g":"C","x":0.19,"y":0.36},{"g":"C","x":0.19,"y":0.45},{"g":"C","x":0.25,"y":0.5},{"g":"C","x":0.26,"y":0.32},{"g":"C","x":0.25,"y":0.42},{"g":"C","x":0.27,"y":0.55},{"g":"C","x":0.28,"y":0.43},{"g":"C","x":0.3,"y":0.25},{"g":"C","x":0.32,"y":0.93},{"g":"C","x":0.325,"y":0.68},{"g":"C","x":0.33,"y":0.28},{"g":"C","x":0.36,"y":0.95},{"g":"C","x":0.37,"y":0.85},{"g":"C","x":0.435,"y":0.57},{"g":"C","x":0.43,"y":0.22},{"g":"M","x":0.045,"y":1.5},{"g":"M","x":0.055,"y":1.25},{"g":"M","x":0.06,"y":1.2},{"g":"M","x":0.07,"y":1.1},{"g":"M","x":0.075,"y":1.92},{"g":"M","x":0.08,"y":0.42},{"g":"M","x":0.105,"y":1.3},{"g":"M","x":0.11,"y":1.25},{"g":"M","x":0.12,"y":1.17},{"g":"M","x":0.115,"y":0.55},{"g":"M","x":0.12,"y":0.57},{"g":"M","x":0.23,"y":0.43},{"g":"M","x":0.26,"y":0.88},{"g":"M","x":0.27,"y":0.97},{"g":"M","x":0.275,"y":0.25},{"g":"M","x":0.28,"y":0.42},{"g":"M","x":0.285,"y":1.33},{"g":"M","x":0.285,"y":1.05},{"g":"M","x":0.29,"y":0.98},{"g":"M","x":0.305,"y":0.52},{"g":"M","x":0.33,"y":0.22},{"g":"M","x":0.345,"y":0.5},{"g":"M","x":0.36,"y":0.3},{"g":"M","x":0.37,"y":0.23},{"g":"M","x":0.38,"y":0.82},{"g":"M","x":0.415,"y":0.55},{"g":"M","x":0.43,"y":0.55},{"g":"M","x":0.435,"y":0.15}],
"AD_ASF":[{"g":"C","x":0.3,"y":0.4},{"g":"C","x":0.305,"y":0.3},{"g":"C","x":0.31,"y":0.75},{"g":"C","x":0.315,"y":0.85},{"g":"C","x":0.32,"y":0.95},{"g":"C","x":0.325,"y":0.62},{"g":"C","x":0.33,"y":0.97},{"g":"C","x":0.34,"y":0.38},{"g":"C","x":0.35,"y":0.35},{"g":"C","x":0.355,"y":0.5},{"g":"C","x":0.36,"y":0.55},{"g":"C","x":0.365,"y":0.45},{"g":"C","x":0.37,"y":0.58},{"g":"C","x":0.39,"y":0.45},{"g":"C","x":0.32,"y":0.25},{"g":"M","x":0.14,"y":0.85},{"g":"M","x":0.16,"y":0.5},{"g":"M","x":0.19,"y":0.8},{"g":"M","x":0.255,"y":1.5},{"g":"M","x":0.27,"y":0.52},{"g":"M","x":0.28,"y":1.33},{"g":"M","x":0.29,"y":0.57},{"g":"M","x":0.29,"y":0.25},{"g":"M","x":0.3,"y":1.92},{"g":"M","x":0.31,"y":1.27},{"g":"M","x":0.32,"y":1.2},{"g":"M","x":0.32,"y":0.25},{"g":"M","x":0.33,"y":0.52},{"g":"M","x":0.34,"y":0.42},{"g":"M","x":0.35,"y":0.42},{"g":"M","x":0.345,"y":0.2},{"g":"M","x":0.36,"y":0.47},{"g":"M","x":0.37,"y":0.3},{"g":"M","x":0.375,"y":1.17},{"g":"M","x":0.38,"y":1.25},{"g":"M","x":0.36,"y":0.15},{"g":"M","x":0.42,"y":0.55},{"g":"M","x":0.43,"y":0.42},{"g":"M","x":0.45,"y":1.17},{"g":"M","x":0.47,"y":1.33},{"g":"M","x":0.525,"y":1.05},{"g":"M","x":0.525,"y":0.98},{"g":"M","x":0.55,"y":0.93}],
"AD_GSF":[{"g":"C","x":0.006,"y":0.37},{"g":"C","x":0.008,"y":0.43},{"g":"C","x":0.009,"y":0.42},{"g":"C","x":0.011,"y":0.27},{"g":"C","x":0.013,"y":0.35},{"g":"C","x":0.015,"y":0.3},{"g":"C","x":0.017,"y":0.35},{"g":"C","x":0.018,"y":0.32},{"g":"C","x":0.02,"y":0.3},{"g":"C","x":0.028,"y":0.68},{"g":"C","x":0.029,"y":0.58},{"g":"C","x":0.03,"y":0.4},{"g":"C","x":0.035,"y":0.45},{"g":"C","x":0.041,"y":0.95},{"g":"C","x":0.046,"y":0.93},{"g":"C","x":0.047,"y":0.8},{"g":"C","x":0.05,"y":0.57},{"g":"C","x":0.052,"y":0.58},{"g":"C","x":0.058,"y":0.48},{"g":"C","x":0.06,"y":0.5},{"g":"M","x":0.001,"y":1.2},{"g":"M","x":0.002,"y":1.13},{"g":"M","x":0.003,"y":1.25},{"g":"M","x":0.006,"y":1.92},{"g":"M","x":0.007,"y":1.52},{"g":"M","x":0.009,"y":1.25},{"g":"M","x":0.012,"y":1.28},{"g":"M","x":0.017,"y":1.33},{"g":"M","x":0.018,"y":1.25},{"g":"M","x":0.018,"y":1.0},{"g":"M","x":0.021,"y":0.22},{"g":"M","x":0.023,"y":1.02},{"g":"M","x":0.027,"y":0.93},{"g":"M","x":0.027,"y":0.25},{"g":"M","x":0.028,"y":0.5},{"g":"M","x":0.03,"y":0.55},{"g":"M","x":0.031,"y":0.47},{"g":"M","x":0.033,"y":0.42},{"g":"M","x":0.035,"y":0.42},{"g":"M","x":0.038,"y":0.55},{"g":"M","x":0.07,"y":0.85},{"g":"M","x":0.074,"y":0.82},{"g":"M","x":0.1,"y":0.55},{"g":"M","x":0.123,"y":0.52},{"g":"M","x":0.147,"y":0.15},{"g":"M","x":0.148,"y":0.5},{"g":"M","x":0.149,"y":0.12}],
"RD_CV":[{"g":"C","x":0.13,"y":0.12},{"g":"C","x":0.14,"y":0.14},{"g":"C","x":0.15,"y":0.1},{"g":"C","x":0.16,"y":0.15},{"g":"C","x":0.17,"y":0.15},{"g":"C","x":0.2,"y":0.1},{"g":"C","x":0.24,"y":0.35},{"g":"C","x":0.24,"y":0.25},{"g":"C","x":0.4,"y":0.25},{"g":"C","x":0.42,"y":0.25},{"g":"C","x":0.47,"y":0.33},{"g":"C","x":0.5,"y":0.25},{"g":"C","x":0.55,"y":0.68},{"g":"C","x":0.57,"y":0.28},{"g":"C","x":0.61,"y":0.23},{"g":"C","x":0.62,"y":0.25},{"g":"C","x":0.67,"y":0.78},{"g":"C","x":0.7,"y":0.4},{"g":"M","x":0.29,"y":1.78},{"g":"M","x":0.29,"y":1.15},{"g":"M","x":0.28,"y":0.42},{"g":"M","x":0.3,"y":0.72},{"g":"M","x":0.32,"y":0.7},{"g":"M","x":0.34,"y":1.28},{"g":"M","x":0.36,"y":0.88},{"g":"M","x":0.31,"y":0.13},{"g":"M","x":0.34,"y":0.15},{"g":"M","x":0.35,"y":0.2},{"g":"M","x":0.36,"y":0.1},{"g":"M","x":0.37,"y":0.15},{"g":"M","x":0.38,"y":0.18},{"g":"M","x":0.39,"y":0.52},{"g":"M","x":0.37,"y":0.25},{"g":"M","x":0.36,"y":0.05},{"g":"M","x":0.41,"y":1.1},{"g":"M","x":0.41,"y":0.28},{"g":"M","x":0.47,"y":0.2},{"g":"M","x":0.5,"y":0.37},{"g":"M","x":0.55,"y":0.27},{"g":"M","x":0.6,"y":0.6},{"g":"M","x":0.63,"y":0.5},{"g":"M","x":0.67,"y":0.33},{"g":"M","x":0.81,"y":1.03},{"g":"M","x":0.86,"y":1.05},{"g":"M","x":0.9,"y":0.35}],
"RD_MSF":[{"g":"C","x":0.1,"y":0.38},{"g":"C","x":0.11,"y":0.2},{"g":"C","x":0.16,"y":0.33},{"g":"C","x":0.2,"y":0.13},{"g":"C","x":0.2,"y":0.28},{"g":"C","x":0.21,"y":0.1},{"g":"C","x":0.22,"y":0.12},{"g":"C","x":0.235,"y":0.27},{"g":"C","x":0.25,"y":0.12},{"g":"C","x":0.255,"y":0.2},{"g":"C","x":0.265,"y":0.25},{"g":"C","x":0.27,"y":0.2},{"g":"C","x":0.28,"y":0.13},{"g":"C","x":0.29,"y":0.33},{"g":"C","x":0.305,"y":0.2},{"g":"C","x":0.315,"y":0.78},{"g":"C","x":0.315,"y":0.7},{"g":"C","x":0.325,"y":0.28},{"g":"M","x":0,"y":1.78},{"g":"M","x":0,"y":1.15},{"g":"M","x":0,"y":0.72},{"g":"M","x":0.005,"y":0.9},{"g":"M","x":0.005,"y":0.48},{"g":"M","x":0.01,"y":0.42},{"g":"M","x":0.015,"y":1.1},{"g":"M","x":0.025,"y":1.03},{"g":"M","x":0.025,"y":0.72},{"g":"M","x":0.025,"y":0.55},{"g":"M","x":0.025,"y":0.35},{"g":"M","x":0.11,"y":1.05},{"g":"M","x":0.115,"y":0.2},{"g":"M","x":0.145,"y":0.15},{"g":"M","x":0.145,"y":0.08},{"g":"M","x":0.185,"y":0.17},{"g":"M","x":0.19,"y":1.28},{"g":"M","x":0.2,"y":0.27},{"g":"M","x":0.21,"y":0.62},{"g":"M","x":0.215,"y":0.2},{"g":"M","x":0.225,"y":0.25},{"g":"M","x":0.23,"y":0.35},{"g":"M","x":0.255,"y":0.22},{"g":"M","x":0.27,"y":0.1},{"g":"M","x":0.275,"y":0.05},{"g":"M","x":0.29,"y":0.15},{"g":"M","x":0.35,"y":0.12}],
"RD_NSF":[{"g":"C","x":0.025,"y":0.2},{"g":"C","x":0.11,"y":0.28},{"g":"C","x":0.12,"y":0.3},{"g":"C","x":0.125,"y":0.22},{"g":"C","x":0.19,"y":0.3},{"g":"C","x":0.19,"y":0.25},{"g":"C","x":0.25,"y":0.2},{"g":"C","x":0.26,"y":0.17},{"g":"C","x":0.25,"y":0.22},{"g":"C","x":0.27,"y":0.33},{"g":"C","x":0.28,"y":0.25},{"g":"C","x":0.3,"y":0.12},{"g":"C","x":0.32,"y":0.78},{"g":"C","x":0.325,"y":0.38},{"g":"C","x":0.33,"y":0.2},{"g":"C","x":0.365,"y":0.68},{"g":"C","x":0.37,"y":0.33},{"g":"C","x":0.435,"y":0.25},{"g":"C","x":0.43,"y":0.15},{"g":"M","x":0.045,"y":1.28},{"g":"M","x":0.055,"y":1.05},{"g":"M","x":0.06,"y":0.55},{"g":"M","x":0.07,"y":0.5},{"g":"M","x":0.075,"y":1.78},{"g":"M","x":0.08,"y":0.2},{"g":"M","x":0.105,"y":1.03},{"g":"M","x":0.11,"y":1.1},{"g":"M","x":0.12,"y":0.88},{"g":"M","x":0.115,"y":0.3},{"g":"M","x":0.12,"y":0.35},{"g":"M","x":0.23,"y":0.2},{"g":"M","x":0.26,"y":0.65},{"g":"M","x":0.27,"y":0.72},{"g":"M","x":0.275,"y":0.15},{"g":"M","x":0.28,"y":0.15},{"g":"M","x":0.285,"y":1.15},{"g":"M","x":0.285,"y":0.72},{"g":"M","x":0.285,"y":0.42},{"g":"M","x":0.305,"y":0.28},{"g":"M","x":0.33,"y":0.1},{"g":"M","x":0.345,"y":0.35},{"g":"M","x":0.36,"y":0.17},{"g":"M","x":0.375,"y":0.15},{"g":"M","x":0.38,"y":0.4},{"g":"M","x":0.415,"y":0.22},{"g":"M","x":0.43,"y":0.2},{"g":"M","x":0.435,"y":0.05}],
"RD_ASF":[{"g":"C","x":0.3,"y":0.2},{"g":"C","x":0.305,"y":0.15},{"g":"C","x":0.31,"y":0.33},{"g":"C","x":0.315,"y":0.78},{"g":"C","x":0.32,"y":0.35},{"g":"C","x":0.325,"y":0.7},{"g":"C","x":0.33,"y":0.12},{"g":"C","x":0.34,"y":0.22},{"g":"C","x":0.35,"y":0.17},{"g":"C","x":0.355,"y":0.2},{"g":"C","x":0.36,"y":0.25},{"g":"C","x":0.365,"y":0.3},{"g":"C","x":0.37,"y":0.2},{"g":"C","x":0.39,"y":0.3},{"g":"C","x":0.32,"y":0.13},{"g":"M","x":0.14,"y":0.62},{"g":"M","x":0.16,"y":0.28},{"g":"M","x":0.19,"y":0.38},{"g":"M","x":0.255,"y":1.28},{"g":"M","x":0.27,"y":0.35},{"g":"M","x":0.28,"y":1.03},{"g":"M","x":0.29,"y":0.33},{"g":"M","x":0.29,"y":0.15},{"g":"M","x":0.3,"y":1.78},{"g":"M","x":0.31,"y":0.55},{"g":"M","x":0.32,"y":1.05},{"g":"M","x":0.32,"y":0.15},{"g":"M","x":0.33,"y":0.2},{"g":"M","x":0.34,"y":0.17},{"g":"M","x":0.35,"y":0.15},{"g":"M","x":0.345,"y":0.1},{"g":"M","x":0.36,"y":0.12},{"g":"M","x":0.37,"y":0.2},{"g":"M","x":0.375,"y":0.5},{"g":"M","x":0.38,"y":1.1},{"g":"M","x":0.36,"y":0.05},{"g":"M","x":0.42,"y":0.22},{"g":"M","x":0.43,"y":0.17},{"g":"M","x":0.45,"y":0.88},{"g":"M","x":0.47,"y":1.15},{"g":"M","x":0.525,"y":0.72},{"g":"M","x":0.525,"y":0.42},{"g":"M","x":0.55,"y":0.7}],
"RD_GSF":[{"g":"C","x":0.006,"y":0.28},{"g":"C","x":0.008,"y":0.3},{"g":"C","x":0.009,"y":0.22},{"g":"C","x":0.011,"y":0.15},{"g":"C","x":0.013,"y":0.2},{"g":"C","x":0.015,"y":0.2},{"g":"C","x":0.017,"y":0.18},{"g":"C","x":0.018,"y":0.15},{"g":"C","x":0.02,"y":0.15},{"g":"C","x":0.028,"y":0.4},{"g":"C","x":0.029,"y":0.3},{"g":"C","x":0.03,"y":0.25},{"g":"C","x":0.035,"y":0.35},{"g":"C","x":0.041,"y":0.7},{"g":"C","x":0.046,"y":0.78},{"g":"C","x":0.047,"y":0.35},{"g":"C","x":0.05,"y":0.25},{"g":"C","x":0.052,"y":0.23},{"g":"C","x":0.058,"y":0.22},{"g":"C","x":0.06,"y":0.22},{"g":"M","x":0.001,"y":0.55},{"g":"M","x":0.002,"y":0.48},{"g":"M","x":0.003,"y":0.9},{"g":"M","x":0.006,"y":1.78},{"g":"M","x":0.007,"y":1.3},{"g":"M","x":0.009,"y":1.1},{"g":"M","x":0.012,"y":1.05},{"g":"M","x":0.018,"y":1.08},{"g":"M","x":0.018,"y":1.12},{"g":"M","x":0.018,"y":0.75},{"g":"M","x":0.021,"y":0.15},{"g":"M","x":0.023,"y":0.42},{"g":"M","x":0.027,"y":0.7},{"g":"M","x":0.027,"y":0.15},{"g":"M","x":0.028,"y":0.22},{"g":"M","x":0.03,"y":0.35},{"g":"M","x":0.031,"y":0.3},{"g":"M","x":0.033,"y":0.2},{"g":"M","x":0.035,"y":0.22},{"g":"M","x":0.038,"y":0.35},{"g":"M","x":0.07,"y":0.62},{"g":"M","x":0.074,"y":0.4},{"g":"M","x":0.1,"y":0.25},{"g":"M","x":0.123,"y":0.25},{"g":"M","x":0.147,"y":0.12},{"g":"M","x":0.148,"y":0.3},{"g":"M","x":0.149,"y":0.05}],
"MD_CV":[{"g":"C","x":0.13,"y":0.18},{"g":"C","x":0.14,"y":0.2},{"g":"C","x":0.15,"y":0.16},{"g":"C","x":0.16,"y":0.22},{"g":"C","x":0.17,"y":0.2},{"g":"C","x":0.2,"y":0.15},{"g":"C","x":0.24,"y":0.5},{"g":"C","x":0.24,"y":0.35},{"g":"C","x":0.4,"y":0.32},{"g":"C","x":0.42,"y":0.35},{"g":"C","x":0.47,"y":0.4},{"g":"C","x":0.5,"y":0.3},{"g":"C","x":0.55,"y":0.72},{"g":"C","x":0.57,"y":0.35},{"g":"C","x":0.61,"y":0.28},{"g":"C","x":0.62,"y":0.3},{"g":"C","x":0.67,"y":0.8},{"g":"C","x":0.7,"y":0.48},{"g":"M","x":0.29,"y":1.82},{"g":"M","x":0.29,"y":1.2},{"g":"M","x":0.28,"y":0.65},{"g":"M","x":0.29,"y":0.75},{"g":"M","x":0.31,"y":0.72},{"g":"M","x":0.34,"y":1.37},{"g":"M","x":0.36,"y":0.98},{"g":"M","x":0.31,"y":0.18},{"g":"M","x":0.34,"y":0.3},{"g":"M","x":0.35,"y":0.2},{"g":"M","x":0.36,"y":0.12},{"g":"M","x":0.37,"y":0.2},{"g":"M","x":0.38,"y":0.28},{"g":"M","x":0.39,"y":0.8},{"g":"M","x":0.37,"y":0.32},{"g":"M","x":0.36,"y":0.08},{"g":"M","x":0.41,"y":1.13},{"g":"M","x":0.41,"y":0.33},{"g":"M","x":0.47,"y":0.27},{"g":"M","x":0.5,"y":0.52},{"g":"M","x":0.55,"y":0.35},{"g":"M","x":0.6,"y":0.63},{"g":"M","x":0.62,"y":0.7},{"g":"M","x":0.67,"y":0.42},{"g":"M","x":0.81,"y":1.12},{"g":"M","x":0.86,"y":1.1},{"g":"M","x":0.9,"y":0.42}],
"MD_MSF":[{"g":"C","x":0.1,"y":0.47},{"g":"C","x":0.11,"y":0.3},{"g":"C","x":0.16,"y":0.4},{"g":"C","x":0.2,"y":0.17},{"g":"C","x":0.2,"y":0.35},{"g":"C","x":0.21,"y":0.17},{"g":"C","x":0.22,"y":0.18},{"g":"C","x":0.235,"y":0.35},{"g":"C","x":0.25,"y":0.17},{"g":"C","x":0.255,"y":0.3},{"g":"C","x":0.265,"y":0.3},{"g":"C","x":0.27,"y":0.28},{"g":"C","x":0.28,"y":0.2},{"g":"C","x":0.29,"y":0.48},{"g":"C","x":0.305,"y":0.3},{"g":"C","x":0.315,"y":0.8},{"g":"C","x":0.315,"y":0.72},{"g":"C","x":0.325,"y":0.35},{"g":"M","x":0,"y":1.82},{"g":"M","x":0,"y":1.2},{"g":"M","x":0,"y":0.7},{"g":"M","x":0.005,"y":0.98},{"g":"M","x":0.005,"y":0.67},{"g":"M","x":0.01,"y":0.65},{"g":"M","x":0.015,"y":1.15},{"g":"M","x":0.025,"y":1.13},{"g":"M","x":0.025,"y":0.78},{"g":"M","x":0.025,"y":0.72},{"g":"M","x":0.025,"y":0.52},{"g":"M","x":0.11,"y":1.12},{"g":"M","x":0.115,"y":0.27},{"g":"M","x":0.145,"y":0.25},{"g":"M","x":0.145,"y":0.15},{"g":"M","x":0.185,"y":0.27},{"g":"M","x":0.19,"y":1.37},{"g":"M","x":0.2,"y":0.35},{"g":"M","x":0.21,"y":0.63},{"g":"M","x":0.215,"y":0.3},{"g":"M","x":0.225,"y":0.33},{"g":"M","x":0.23,"y":0.4},{"g":"M","x":0.255,"y":0.3},{"g":"M","x":0.27,"y":0.2},{"g":"M","x":0.275,"y":0.1},{"g":"M","x":0.29,"y":0.22},{"g":"M","x":0.35,"y":0.17}],
"MD_NSF":[{"g":"C","x":0.025,"y":0.3},{"g":"C","x":0.11,"y":0.3},{"g":"C","x":0.12,"y":0.35},{"g":"C","x":0.125,"y":0.3},{"g":"C","x":0.19,"y":0.35},{"g":"C","x":0.19,"y":0.28},{"g":"C","x":0.25,"y":0.25},{"g":"C","x":0.26,"y":0.22},{"g":"C","x":0.25,"y":0.3},{"g":"C","x":0.27,"y":0.4},{"g":"C","x":0.28,"y":0.3},{"g":"C","x":0.3,"y":0.18},{"g":"C","x":0.32,"y":0.8},{"g":"C","x":0.325,"y":0.48},{"g":"C","x":0.33,"y":0.25},{"g":"C","x":0.365,"y":0.7},{"g":"C","x":0.37,"y":0.45},{"g":"C","x":0.435,"y":0.33},{"g":"C","x":0.43,"y":0.2},{"g":"M","x":0.045,"y":1.37},{"g":"M","x":0.055,"y":1.12},{"g":"M","x":0.06,"y":0.8},{"g":"M","x":0.07,"y":0.72},{"g":"M","x":0.075,"y":1.82},{"g":"M","x":0.08,"y":0.27},{"g":"M","x":0.105,"y":1.13},{"g":"M","x":0.11,"y":1.13},{"g":"M","x":0.12,"y":0.98},{"g":"M","x":0.115,"y":0.35},{"g":"M","x":0.12,"y":0.42},{"g":"M","x":0.23,"y":0.28},{"g":"M","x":0.26,"y":0.62},{"g":"M","x":0.27,"y":0.75},{"g":"M","x":0.275,"y":0.2},{"g":"M","x":0.28,"y":0.25},{"g":"M","x":0.285,"y":1.2},{"g":"M","x":0.285,"y":0.68},{"g":"M","x":0.285,"y":0.28},{"g":"M","x":0.305,"y":0.35},{"g":"M","x":0.33,"y":0.15},{"g":"M","x":0.345,"y":0.42},{"g":"M","x":0.36,"y":0.2},{"g":"M","x":0.375,"y":0.18},{"g":"M","x":0.38,"y":0.52},{"g":"M","x":0.415,"y":0.33},{"g":"M","x":0.43,"y":0.33},{"g":"M","x":0.435,"y":0.1}],
"MD_ASF":[{"g":"C","x":0.3,"y":0.25},{"g":"C","x":0.305,"y":0.2},{"g":"C","x":0.31,"y":0.47},{"g":"C","x":0.315,"y":0.8},{"g":"C","x":0.32,"y":0.35},{"g":"C","x":0.325,"y":0.72},{"g":"C","x":0.33,"y":0.2},{"g":"C","x":0.34,"y":0.3},{"g":"C","x":0.35,"y":0.25},{"g":"C","x":0.355,"y":0.3},{"g":"C","x":0.36,"y":0.35},{"g":"C","x":0.365,"y":0.4},{"g":"C","x":0.37,"y":0.28},{"g":"C","x":0.39,"y":0.35},{"g":"C","x":0.32,"y":0.2},{"g":"M","x":0.14,"y":0.62},{"g":"M","x":0.16,"y":0.35},{"g":"M","x":0.19,"y":0.52},{"g":"M","x":0.255,"y":1.37},{"g":"M","x":0.27,"y":0.42},{"g":"M","x":0.28,"y":1.12},{"g":"M","x":0.29,"y":0.4},{"g":"M","x":0.29,"y":0.18},{"g":"M","x":0.3,"y":1.82},{"g":"M","x":0.31,"y":0.78},{"g":"M","x":0.32,"y":1.1},{"g":"M","x":0.32,"y":0.25},{"g":"M","x":0.33,"y":0.3},{"g":"M","x":0.34,"y":0.28},{"g":"M","x":0.35,"y":0.25},{"g":"M","x":0.345,"y":0.17},{"g":"M","x":0.36,"y":0.2},{"g":"M","x":0.37,"y":0.3},{"g":"M","x":0.375,"y":0.72},{"g":"M","x":0.38,"y":1.13},{"g":"M","x":0.36,"y":0.08},{"g":"M","x":0.42,"y":0.33},{"g":"M","x":0.43,"y":0.27},{"g":"M","x":0.45,"y":0.98},{"g":"M","x":0.47,"y":1.2},{"g":"M","x":0.525,"y":0.75},{"g":"M","x":0.525,"y":0.67},{"g":"M","x":0.55,"y":0.7}],
"MD_GSF":[{"g":"C","x":0.006,"y":0.3},{"g":"C","x":0.008,"y":0.35},{"g":"C","x":0.009,"y":0.28},{"g":"C","x":0.011,"y":0.2},{"g":"C","x":0.013,"y":0.25},{"g":"C","x":0.015,"y":0.25},{"g":"C","x":0.017,"y":0.22},{"g":"C","x":0.018,"y":0.2},{"g":"C","x":0.02,"y":0.2},{"g":"C","x":0.028,"y":0.5},{"g":"C","x":0.029,"y":0.38},{"g":"C","x":0.03,"y":0.3},{"g":"C","x":0.035,"y":0.4},{"g":"C","x":0.041,"y":0.72},{"g":"C","x":0.046,"y":0.8},{"g":"C","x":0.047,"y":0.5},{"g":"C","x":0.05,"y":0.37},{"g":"C","x":0.052,"y":0.35},{"g":"C","x":0.058,"y":0.3},{"g":"C","x":0.06,"y":0.3},{"g":"M","x":0.001,"y":0.75},{"g":"M","x":0.002,"y":0.7},{"g":"M","x":0.003,"y":0.98},{"g":"M","x":0.006,"y":1.82},{"g":"M","x":0.007,"y":1.37},{"g":"M","x":0.009,"y":1.15},{"g":"M","x":0.012,"y":1.13},{"g":"M","x":0.018,"y":1.13},{"g":"M","x":0.018,"y":1.2},{"g":"M","x":0.018,"y":0.75},{"g":"M","x":0.021,"y":0.18},{"g":"M","x":0.023,"y":0.68},{"g":"M","x":0.027,"y":0.72},{"g":"M","x":0.027,"y":0.2},{"g":"M","x":0.028,"y":0.3},{"g":"M","x":0.03,"y":0.42},{"g":"M","x":0.031,"y":0.35},{"g":"M","x":0.033,"y":0.28},{"g":"M","x":0.035,"y":0.3},{"g":"M","x":0.038,"y":0.42},{"g":"M","x":0.07,"y":0.63},{"g":"M","x":0.074,"y":0.55},{"g":"M","x":0.1,"y":0.33},{"g":"M","x":0.123,"y":0.33},{"g":"M","x":0.147,"y":0.12},{"g":"M","x":0.148,"y":0.35},{"g":"M","x":0.149,"y":0.08}]
},
"vconcat":[
{"hconcat":[
 {"width":572,"height":28,"data":{"values":[{}]},"mark":"text","encoding":{},"view":{"stroke":null}},
 {"width":169,"height":28,"data":{"values":[{"t":"NODDI metrics"}]},"mark":{"type":"text","fontSize":17,"fontWeight":"bold","color":"#000"},"encoding":{"text":{"field":"t"}},"view":{"fill":"#d3f8fb","stroke":null}}
],"spacing":4},
{"hconcat":[
 {"vconcat":[
  {"width":1,"height":16,"data":{"values":[{}]},"mark":"text","encoding":{},"view":{"stroke":null}},
  {"hconcat":[
   {"width":54,"height":1,"data":{"values":[{}]},"mark":"text","encoding":{},"view":{"stroke":null}},
   {"title":{"text":"Colour code","fontSize":10,"offset":4},"width":72,"height":56,"data":{"values":[{"t":"MS cases","g":"M","i":0},{"t":"Control\ncases","g":"C","i":1}]},"mark":{"type":"text","fontSize":10.5,"fontWeight":"bold","lineBreak":"\n","lineHeight":13},"encoding":{"text":{"field":"t"},"color":{"field":"g","type":"nominal","legend":null},"y":{"field":"i","type":"quantitative","scale":{"domain":[2.407,-0.479],"nice":false,"zero":false},"axis":null}},"view":{"stroke":"#333"}}
  ],"spacing":0},
  {"width":1,"height":34,"data":{"values":[{}]},"mark":"text","encoding":{},"view":{"stroke":null}},
  {"title":{"text":"MRI metrics","fontSize":10,"offset":4},"width":142,"height":91,"data":{"values":[{"t":"IVF: free water","i":0},{"t":"NDI: neurite density","i":1},{"t":"ODI: neurite dispersion","i":2},{"t":"FA: diffusion anisotropy","i":3},{"t":"AD: parallel diffusivity","i":4},{"t":"RD: perpendicular diffusivity","i":5},{"t":"MD: mean diffusivity","i":6}]},"mark":{"type":"text","align":"left","fontSize":9,"color":"#111"},"encoding":{"text":{"field":"t"},"x":{"datum":0,"type":"quantitative","scale":{"domain":[-0.035,1],"nice":false},"axis":null},"y":{"field":"i","type":"quantitative","scale":{"domain":[7.57,-0.83],"nice":false,"zero":false},"axis":null}},"view":{"stroke":"#333"}},
  {"width":1,"height":34,"data":{"values":[{}]},"mark":"text","encoding":{},"view":{"stroke":null}},
  {"title":{"text":"Histological metrics","fontSize":10,"offset":4},"width":136,"height":63,"data":{"values":[{"t":"CV: neurite dispersion","i":0},{"t":"MSF: myelin density","i":1},{"t":"NSF: neurofilament density","i":2},{"t":"ASF: astrocyte density","i":3},{"t":"μGSF: microglia density","i":4}]},"mark":{"type":"text","align":"left","fontSize":9,"color":"#111"},"encoding":{"text":{"field":"t"},"x":{"datum":0,"type":"quantitative","scale":{"domain":[-0.035,1],"nice":false},"axis":null},"y":{"field":"i","type":"quantitative","scale":{"domain":[4.97,-0.755],"nice":false,"zero":false},"axis":null}},"view":{"stroke":"#333"}},
  {"width":1,"height":35,"data":{"values":[{}]},"mark":"text","encoding":{},"view":{"stroke":null}}
 ],"spacing":0,"resolve":{"scale":{"color":"independent"}}},
 {"concat":[
  {"title":"IVF and CV","data":{"name":"IVF_CV"},"mark":"point","encoding":{"x":{"field":"x","type":"quantitative","scale":{"domain":[0,1],"nice":false},"axis":{"values":[0,0.5,1],"title":"CV"}},"y":{"field":"y","type":"quantitative","scale":{"domain":[0,0.6],"nice":false},"axis":{"values":[0,0.2,0.4,0.6],"title":"IVF"}},"color":{"field":"g","type":"nominal","legend":{"title":null,"labelExpr":"datum.value=='C'?'r = 0.28; p = 0.239':'r = -0.01; p = 0.943'"}}}},
  {"title":"IVF and MSF","data":{"name":"IVF_MSF"},"mark":"point","encoding":{"x":{"field":"x","type":"quantitative","scale":{"domain":[0,0.4],"nice":false},"axis":{"values":[0,0.1,0.2,0.3,0.4],"title":"MSF"}},"y":{"field":"y","type":"quantitative","scale":{"domain":[0,0.6],"nice":false},"axis":{"values":[0,0.2,0.4,0.6],"title":"IVF"}},"color":{"field":"g","type":"nominal","legend":{"title":null,"labelExpr":"datum.value=='C'?'r = 0.43; p = 0.056':'r = -0.28; p = 0.145'"}}}},
  {"title":"IVF and NSF","data":{"name":"IVF_NSF"},"mark":"point","encoding":{"x":{"field":"x","type":"quantitative","scale":{"domain":[0,0.6],"nice":false},"axis":{"values":[0,0.2,0.4,0.6],"title":"NSF"}},"y":{"field":"y","type":"quantitative","scale":{"domain":[0,0.6],"nice":false},"axis":{"values":[0,0.2,0.4,0.6],"title":"IVF"}},"color":{"field":"g","type":"nominal","legend":{"title":null,"labelExpr":"datum.value=='C'?'r = 0.33; p = 0.154':'r = -0.16; p = 0.419'"}}}},
  {"title":"IVF and ASF","data":{"name":"IVF_ASF"},"mark":"point","encoding":{"x":{"field":"x","type":"quantitative","scale":{"domain":[0,0.6],"nice":false},"axis":{"values":[0,0.2,0.4,0.6],"title":"ASF"}},"y":{"field":"y","type":"quantitative","scale":{"domain":[0,0.6],"nice":false},"axis":{"values":[0,0.2,0.4,0.6],"title":"IVF"}},"color":{"field":"g","type":"nominal","legend":{"title":null,"labelExpr":"datum.value=='C'?'r = -0.26; p = 0.266':'r = -0.17; p = 0.388'"}}}},
  {"title":"IVF and μGSF","data":{"name":"IVF_GSF"},"mark":"point","encoding":{"x":{"field":"x","type":"quantitative","scale":{"domain":[0,0.15],"nice":false},"axis":{"values":[0,0.05,0.1,0.15],"title":"μGSF"}},"y":{"field":"y","type":"quantitative","scale":{"domain":[0,0.6],"nice":false},"axis":{"values":[0,0.2,0.4,0.6],"title":"IVF"}},"color":{"field":"g","type":"nominal","legend":{"title":null,"labelExpr":"datum.value=='C'?'r = 0.35; p = 0.128':'r = -0.14; p = 0.481'"}}}},
  {"title":"NDI and CV","data":{"name":"NDI_CV"},"mark":"point","encoding":{"x":{"field":"x","type":"quantitative","scale":{"domain":[0,1],"nice":false},"axis":{"values":[0,0.5,1],"title":"CV"}},"y":{"field":"y","type":"quantitative","scale":{"domain":[0,1.6],"nice":false},"axis":{"values":[0,0.5,1,1.5],"title":"NDI"}},"color":{"field":"g","type":"nominal","legend":{"title":null,"labelExpr":"datum.value=='C'?'r = -0.78; p < 0.001':'r = -0.28; p = 0.152'"}}}},
  {"title":"NDI and MSF","data":{"name":"NDI_MSF"},"mark":"point","encoding":{"x":{"field":"x","type":"quantitative","scale":{"domain":[0,0.4],"nice":false},"axis":{"values":[0,0.1,0.2,0.3,0.4],"title":"MSF"}},"y":{"field":"y","type":"quantitative","scale":{"domain":[0,1.6],"nice":false},"axis":{"values":[0,0.5,1,1.5],"title":"NDI"}},"color":{"field":"g","type":"nominal","legend":{"title":null,"labelExpr":"datum.value=='C'?'r = -0.01; p = 0.977':'r = 0.74; p < 0.001'"}}}},
  {"title":"NDI and NSF","data":{"name":"NDI_NSF"},"mark":"point","encoding":{"x":{"field":"x","type":"quantitative","scale":{"domain":[0,0.6],"nice":false},"axis":{"values":[0,0.2,0.4,0.6],"title":"NSF"}},"y":{"field":"y","type":"quantitative","scale":{"domain":[0,1.6],"nice":false},"axis":{"values":[0,0.5,1,1.5],"title":"NDI"}},"color":{"field":"g","type":"nominal","legend":{"title":null,"labelExpr":"datum.value=='C'?'r = -0.01; p = 0.978':'r = 0.56; p = 0.002'"}}}},
  {"title":"NDI and ASF","data":{"name":"NDI_ASF"},"mark":"point","encoding":{"x":{"field":"x","type":"quantitative","scale":{"domain":[0,0.6],"nice":false},"axis":{"values":[0,0.2,0.4,0.6],"title":"ASF"}},"y":{"field":"y","type":"quantitative","scale":{"domain":[0,1.6],"nice":false},"axis":{"values":[0,0.5,1,1.5],"title":"NDI"}},"color":{"field":"g","type":"nominal","legend":{"title":null,"labelExpr":"datum.value=='C'?'r = 0.06; p = 0.816':'r = -0.02; p = 0.915'"}}}},
  {"title":"NDI and μGSF","data":{"name":"NDI_GSF"},"mark":"point","encoding":{"x":{"field":"x","type":"quantitative","scale":{"domain":[0,0.15],"nice":false},"axis":{"values":[0,0.05,0.1,0.15],"title":"μGSF"}},"y":{"field":"y","type":"quantitative","scale":{"domain":[0,1.6],"nice":false},"axis":{"values":[0,0.5,1,1.5],"title":"NDI"}},"color":{"field":"g","type":"nominal","legend":{"title":null,"labelExpr":"datum.value=='C'?'r = -0.19; p = 0.413':'r = 0.49; p = 0.009'"}}}},
  {"title":"ODI and CV","data":{"name":"ODI_CV"},"mark":"point","encoding":{"x":{"field":"x","type":"quantitative","scale":{"domain":[0,1],"nice":false},"axis":{"values":[0,0.5,1],"title":"CV"}},"y":{"field":"y","type":"quantitative","scale":{"domain":[0,1.3],"nice":false},"axis":{"values":[0,0.5,1],"title":"ODI"}},"color":{"field":"g","type":"nominal","legend":{"title":null,"labelExpr":"datum.value=='C'?'r = 0.84; p < 0.001':'r = 0.60; p < 0.001'"}}}},
  {"title":"ODI and MSF","data":{"name":"ODI_MSF"},"mark":"point","encoding":{"x":{"field":"x","type":"quantitative","scale":{"domain":[0,0.4],"nice":false},"axis":{"values":[0,0.1,0.2,0.3,0.4],"title":"MSF"}},"y":{"field":"y","type":"quantitative","scale":{"domain":[0,1.3],"nice":false},"axis":{"values":[0,0.5,1],"title":"ODI"}},"color":{"field":"g","type":"nominal","legend":{"title":null,"labelExpr":"datum.value=='C'?'r = 0.11; p = 0.656':'r = 0.40; p = 0.036'"}}}},
  {"title":"ODI and NSF","data":{"name":"ODI_NSF"},"mark":"point","encoding":{"x":{"field":"x","type":"quantitative","scale":{"domain":[0,0.6],"nice":false},"axis":{"values":[0,0.2,0.4,0.6],"title":"NSF"}},"y":{"field":"y","type":"quantitative","scale":{"domain":[0,1.3],"nice":false},"axis":{"values":[0,0.5,1],"title":"ODI"}},"color":{"field":"g","type":"nominal","legend":{"title":null,"labelExpr":"datum.value=='C'?'r = -0.28; p = 0.226':'r = 0.36; p = 0.059'"}}}},
  {"title":"ODI and ASF","data":{"name":"ODI_ASF"},"mark":"point","encoding":{"x":{"field":"x","type":"quantitative","scale":{"domain":[0,0.6],"nice":false},"axis":{"values":[0,0.2,0.4,0.6],"title":"ASF"}},"y":{"field":"y","type":"quantitative","scale":{"domain":[0,1.3],"nice":false},"axis":{"values":[0,0.5,1],"title":"ODI"}},"color":{"field":"g","type":"nominal","legend":{"title":null,"labelExpr":"datum.value=='C'?'r = 0.16; p = 0.506':'r = -0.25; p = 0.204'"}}}},
  {"title":"ODI and μGSF","data":{"name":"ODI_GSF"},"mark":"point","encoding":{"x":{"field":"x","type":"quantitative","scale":{"domain":[0,0.15],"nice":false},"axis":{"values":[0,0.05,0.1,0.15],"title":"μGSF"}},"y":{"field":"y","type":"quantitative","scale":{"domain":[0,1.3],"nice":false},"axis":{"values":[0,0.5,1],"title":"ODI"}},"color":{"field":"g","type":"nominal","legend":{"title":null,"labelExpr":"datum.value=='C'?'r = -0.12; p = 0.613':'r = 0.20; p = 0.310'"}}}}
 ],"columns":5,"bounds":"flush","spacing":{"row":43.5,"column":55},"resolve":{"scale":{"color":"independent"}}}
],"spacing":1,"resolve":{"scale":{"color":"independent"}}},
{"hconcat":[
 {"width":572,"height":33,"data":{"values":[{}]},"mark":"text","encoding":{},"view":{"stroke":null}},
 {"width":169,"height":28,"data":{"values":[{"t":"DTI metrics"}]},"mark":{"type":"text","fontSize":17,"fontWeight":"bold","color":"#000"},"encoding":{"text":{"field":"t"}},"view":{"fill":"#d3f8fb","stroke":null}}
],"spacing":4},
{"hconcat":[
 {"width":142,"height":1,"data":{"values":[{}]},"mark":"text","encoding":{},"view":{"stroke":null}},
 {"concat":[
  {"title":"FA and CV","data":{"name":"FA_CV"},"mark":"point","encoding":{"x":{"field":"x","type":"quantitative","scale":{"domain":[0,1],"nice":false},"axis":{"values":[0,0.5,1],"title":"CV"}},"y":{"field":"y","type":"quantitative","scale":{"domain":[0,1],"nice":false},"axis":{"values":[0,0.5,1],"title":"FA"}},"color":{"field":"g","type":"nominal","legend":{"title":null,"labelExpr":"datum.value=='C'?'r = -0.73; p < 0.001':'r = -0.05; p = 0.799'"}}}},
  {"title":"B) FA and MSF","data":{"name":"FA_MSF"},"mark":"point","encoding":{"x":{"field":"x","type":"quantitative","scale":{"domain":[0,0.4],"nice":false},"axis":{"values":[0,0.1,0.2,0.3,0.4],"title":"MSF"}},"y":{"field":"y","type":"quantitative","scale":{"domain":[0,1],"nice":false},"axis":{"values":[0,0.5,1],"title":"FA"}},"color":{"field":"g","type":"nominal","legend":{"title":null,"labelExpr":"datum.value=='C'?'r = -0.26; p = 0.274':'r = 0.42; p = 0.025'"}}}},
  {"title":"FA and NSF","data":{"name":"FA_NSF"},"mark":"point","encoding":{"x":{"field":"x","type":"quantitative","scale":{"domain":[0,0.6],"nice":false},"axis":{"values":[0,0.2,0.4,0.6],"title":"NSF"}},"y":{"field":"y","type":"quantitative","scale":{"domain":[0,1],"nice":false},"axis":{"values":[0,0.5,1],"title":"FA"}},"color":{"field":"g","type":"nominal","legend":{"title":null,"labelExpr":"datum.value=='C'?'r = 0.10; p = 0.661':'r = 0.33; p = 0.086'"}}}},
  {"title":"FA and ASF","data":{"name":"FA_ASF"},"mark":"point","encoding":{"x":{"field":"x","type":"quantitative","scale":{"domain":[0,0.6],"nice":false},"axis":{"values":[0,0.2,0.4,0.6],"title":"ASF"}},"y":{"field":"y","type":"quantitative","scale":{"domain":[0,1],"nice":false},"axis":{"values":[0,0.5,1],"title":"FA"}},"color":{"field":"g","type":"nominal","legend":{"title":null,"labelExpr":"datum.value=='C'?'r = 0.03; p = 0.916':'r = -0.17; p = 0.394'"}}}},
  {"title":"FA and μGSF","data":{"name":"FA_GSF"},"mark":"point","encoding":{"x":{"field":"x","type":"quantitative","scale":{"domain":[0,0.15],"nice":false},"axis":{"values":[0,0.05,0.1,0.15],"title":"μGSF"}},"y":{"field":"y","type":"quantitative","scale":{"domain":[0,1],"nice":false},"axis":{"values":[0,0.5,1],"title":"FA"}},"color":{"field":"g","type":"nominal","legend":{"title":null,"labelExpr":"datum.value=='C'?'r = 0.17; p = 0.461':'r = 0.40; p = 0.033'"}}}},
  {"title":"AD and CV","data":{"name":"AD_CV"},"mark":"point","encoding":{"x":{"field":"x","type":"quantitative","scale":{"domain":[0,1],"nice":false},"axis":{"values":[0,0.5,1],"title":"CV"}},"y":{"field":"y","type":"quantitative","scale":{"domain":[0,3],"nice":false},"axis":{"values":[0,1,2,3],"title":"AD  [μm² ms⁻¹]"}},"color":{"field":"g","type":"nominal","legend":{"title":null,"labelExpr":"datum.value=='C'?'r = 0.51; p = 0.025':'r = 0.05; p = 0.803'"}}}},
  {"title":"AD and MSF","data":{"name":"AD_MSF"},"mark":"point","encoding":{"x":{"field":"x","type":"quantitative","scale":{"domain":[0,0.4],"nice":false},"axis":{"values":[0,0.1,0.2,0.3,0.4],"title":"MSF"}},"y":{"field":"y","type":"quantitative","scale":{"domain":[0,3],"nice":false},"axis":{"values":[0,1,2,3],"title":"AD  [μm² ms⁻¹]"}},"color":{"field":"g","type":"nominal","legend":{"title":null,"labelExpr":"datum.value=='C'?'r = 0.22; p = 0.360':'r = -0.75; p < 0.001'"}}}},
  {"title":"AD and NSF","data":{"name":"AD_NSF"},"mark":"point","encoding":{"x":{"field":"x","type":"quantitative","scale":{"domain":[0,0.6],"nice":false},"axis":{"values":[0,0.2,0.4,0.6],"title":"NSF"}},"y":{"field":"y","type":"quantitative","scale":{"domain":[0,3],"nice":false},"axis":{"values":[0,1,2,3],"title":"AD  [μm² ms⁻¹]"}},"color":{"field":"g","type":"nominal","legend":{"title":null,"labelExpr":"datum.value=='C'?'r = 0.24; p = 0.304':'r = -0.64; p < 0.001'"}}}},
  {"title":"AD and ASF","data":{"name":"AD_ASF"},"mark":"point","encoding":{"x":{"field":"x","type":"quantitative","scale":{"domain":[0,0.6],"nice":false},"axis":{"values":[0,0.2,0.4,0.6],"title":"ASF"}},"y":{"field":"y","type":"quantitative","scale":{"domain":[0,3],"nice":false},"axis":{"values":[0,1,2,3],"title":"AD  [μm² ms⁻¹]"}},"color":{"field":"g","type":"nominal","legend":{"title":null,"labelExpr":"datum.value=='C'?'r = -0.09; p = 0.691':'r = 0.07; p = 0.732'"}}}},
  {"title":"AD and μGSF","data":{"name":"AD_GSF"},"mark":"point","encoding":{"x":{"field":"x","type":"quantitative","scale":{"domain":[0,0.15],"nice":false},"axis":{"values":[0,0.05,0.1,0.15],"title":"μGSF"}},"y":{"field":"y","type":"quantitative","scale":{"domain":[0,3],"nice":false},"axis":{"values":[0,1,2,3],"title":"AD  [μm² ms⁻¹]"}},"color":{"field":"g","type":"nominal","legend":{"title":null,"labelExpr":"datum.value=='C'?'r = 0.60; p = 0.005':'r = -0.57; p = 0.002'"}}}},
  {"title":"RD and CV","data":{"name":"RD_CV"},"mark":"point","encoding":{"x":{"field":"x","type":"quantitative","scale":{"domain":[0,1],"nice":false},"axis":{"values":[0,0.5,1],"title":"CV"}},"y":{"field":"y","type":"quantitative","scale":{"domain":[0,3],"nice":false},"axis":{"values":[0,1,2,3],"title":"RD  [μm² ms⁻¹]"}},"color":{"field":"g","type":"nominal","legend":{"title":null,"labelExpr":"datum.value=='C'?'r = 0.65; p = 0.002':'r = 0.05; p = 0.807'"}}}},
  {"title":"RD and MSF","data":{"name":"RD_MSF"},"mark":"point","encoding":{"x":{"field":"x","type":"quantitative","scale":{"domain":[0,0.4],"nice":false},"axis":{"values":[0,0.1,0.2,0.3,0.4],"title":"MSF"}},"y":{"field":"y","type":"quantitative","scale":{"domain":[0,3],"nice":false},"axis":{"values":[0,1,2,3],"title":"RD  [μm² ms⁻¹]"}},"color":{"field":"g","type":"nominal","legend":{"title":null,"labelExpr":"datum.value=='C'?'r = 0.28; p = 0.226':'r = -0.61; p < 0.001'"}}}},
  {"title":"RD and NSF","data":{"name":"RD_NSF"},"mark":"point","encoding":{"x":{"field":"x","type":"quantitative","scale":{"domain":[0,0.6],"nice":false},"axis":{"values":[0,0.2,0.4,0.6],"title":"NSF"}},"y":{"field":"y","type":"quantitative","scale":{"domain":[0,3],"nice":false},"axis":{"values":[0,1,2,3],"title":"RD  [μm² ms⁻¹]"}},"color":{"field":"g","type":"nominal","legend":{"title":null,"labelExpr":"datum.value=='C'?'r = 0.19; p = 0.411':'r = -0.57; p = 0.001'"}}}},
  {"title":"RD and ASF","data":{"name":"RD_ASF"},"mark":"point","encoding":{"x":{"field":"x","type":"quantitative","scale":{"domain":[0,0.6],"nice":false},"axis":{"values":[0,0.2,0.4,0.6],"title":"ASF"}},"y":{"field":"y","type":"quantitative","scale":{"domain":[0,3],"nice":false},"axis":{"values":[0,1,2,3],"title":"RD  [μm² ms⁻¹]"}},"color":{"field":"g","type":"nominal","legend":{"title":null,"labelExpr":"datum.value=='C'?'r = -0.12; p = 0.629':'r = 0.03; p = 0.895'"}}}},
  {"title":"RD and μGSF","data":{"name":"RD_GSF"},"mark":"point","encoding":{"x":{"field":"x","type":"quantitative","scale":{"domain":[0,0.15],"nice":false},"axis":{"values":[0,0.05,0.1,0.15],"title":"μGSF"}},"y":{"field":"y","type":"quantitative","scale":{"domain":[0,3],"nice":false},"axis":{"values":[0,1,2,3],"title":"RD  [μm² ms⁻¹]"}},"color":{"field":"g","type":"nominal","legend":{"title":null,"labelExpr":"datum.value=='C'?'r = 0.36; p = 0.115':'r = -0.50; p = 0.006'"}}}},
  {"title":"MD and CV","data":{"name":"MD_CV"},"mark":"point","encoding":{"x":{"field":"x","type":"quantitative","scale":{"domain":[0,1],"nice":false},"axis":{"values":[0,0.5,1],"title":"CV"}},"y":{"field":"y","type":"quantitative","scale":{"domain":[0,3],"nice":false},"axis":{"values":[0,1,2,3],"title":"MD  [μm² ms⁻¹]"}},"color":{"field":"g","type":"nominal","legend":{"title":null,"labelExpr":"datum.value=='C'?'r = 0.62; p = 0.004':'r = 0.05; p = 0.784'"}}}},
  {"title":"MD and MSF","data":{"name":"MD_MSF"},"mark":"point","encoding":{"x":{"field":"x","type":"quantitative","scale":{"domain":[0,0.4],"nice":false},"axis":{"values":[0,0.1,0.2,0.3,0.4],"title":"MSF"}},"y":{"field":"y","type":"quantitative","scale":{"domain":[0,3],"nice":false},"axis":{"values":[0,1,2,3],"title":"MD  [μm² ms⁻¹]"}},"color":{"field":"g","type":"nominal","legend":{"title":null,"labelExpr":"datum.value=='C'?'r = 0.26; p = 0.271':'r = -0.67; p < 0.001'"}}}},
  {"title":"MD and NSF","data":{"name":"MD_NSF"},"mark":"point","encoding":{"x":{"field":"x","type":"quantitative","scale":{"domain":[0,0.6],"nice":false},"axis":{"values":[0,0.2,0.4,0.6],"title":"NSF"}},"y":{"field":"y","type":"quantitative","scale":{"domain":[0,3],"nice":false},"axis":{"values":[0,1,2,3],"title":"MD  [μm² ms⁻¹]"}},"color":{"field":"g","type":"nominal","legend":{"title":null,"labelExpr":"datum.value=='C'?'r = 0.22; p = 0.362':'r = -0.61; p < 0.001'"}}}},
  {"title":"MD and ASF","data":{"name":"MD_ASF"},"mark":"point","encoding":{"x":{"field":"x","type":"quantitative","scale":{"domain":[0,0.6],"nice":false},"axis":{"values":[0,0.2,0.4,0.6],"title":"ASF"}},"y":{"field":"y","type":"quantitative","scale":{"domain":[0,3],"nice":false},"axis":{"values":[0,1,2,3],"title":"MD  [μm² ms⁻¹]"}},"color":{"field":"g","type":"nominal","legend":{"title":null,"labelExpr":"datum.value=='C'?'r = -0.11; p = 0.654':'r = 0.04; p = 0.848'"}}}},
  {"title":"MD and μGSF","data":{"name":"MD_GSF"},"mark":"point","encoding":{"x":{"field":"x","type":"quantitative","scale":{"domain":[0,0.15],"nice":false},"axis":{"values":[0,0.05,0.1,0.15],"title":"μGSF"}},"y":{"field":"y","type":"quantitative","scale":{"domain":[0,3],"nice":false},"axis":{"values":[0,1,2,3],"title":"MD  [μm² ms⁻¹]"}},"color":{"field":"g","type":"nominal","legend":{"title":null,"labelExpr":"datum.value=='C'?'r = 0.47; p = 0.035':'r = -0.54; p = 0.003'"}}}}
 ],"columns":5,"bounds":"flush","spacing":{"row":43.5,"column":55},"resolve":{"scale":{"color":"independent"}}}
],"spacing":1,"resolve":{"scale":{"color":"independent"}}}
],
"config":{
 "font":"DejaVu Sans",
 "numberFormat":"~g",
 "view":{"stroke":"#9a9a9a","continuousWidth":170,"continuousHeight":85},
 "point":{"shape":"triangle-up","filled":true,"size":40,"opacity":1,"strokeWidth":0},
 "range":{"category":["#ff9933","#8000ff"]},
 "axis":{"domain":false,"ticks":false,"grid":true,"gridColor":"#e3e3e3","labelFontSize":9,"labelColor":"#333","titleFontSize":10,"titleFontWeight":"normal","titleColor":"#333","labelPadding":4,"labelFlush":false,"labelOverlap":false},
 "axisX":{"titlePadding":3},
 "axisY":{"minExtent":17,"maxExtent":17,"titlePadding":5},
 "title":{"fontSize":9,"fontWeight":"bold","color":"#000","offset":-5},
 "legend":{"orient":"top-right","offset":10,"fillColor":"white","strokeColor":"#999","padding":3,"symbolOffset":7,"symbolType":"triangle-up","symbolSize":35,"labelFontSize":8,"labelColor":"#222","rowPadding":3,"labelOffset":9,"symbolStrokeWidth":0}
}
}
